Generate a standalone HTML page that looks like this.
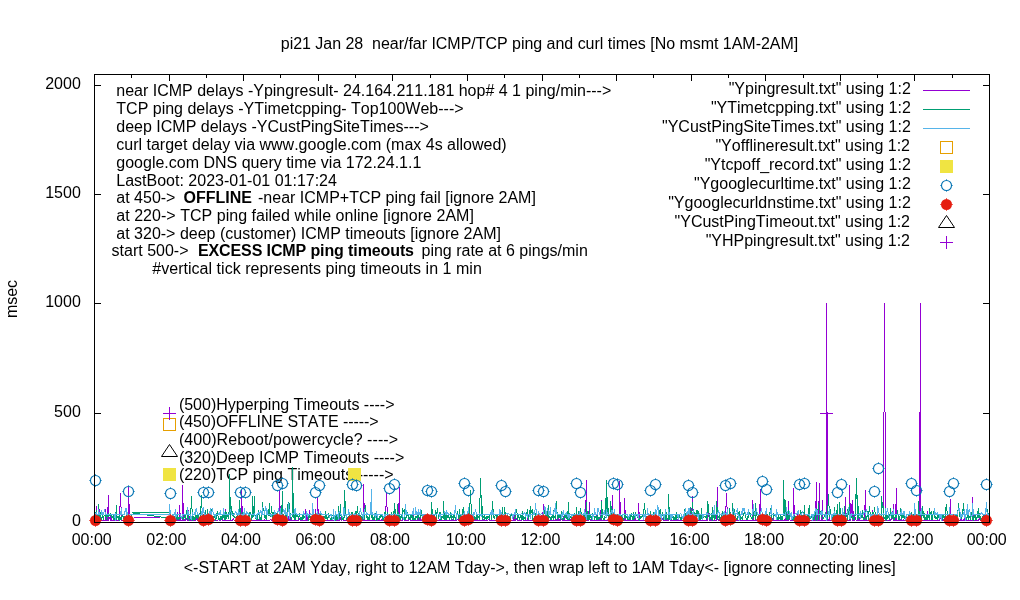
<!DOCTYPE html>
<html lang="en"><head><meta charset="utf-8"><title>pi21 ping and curl times</title>
<style>html,body{margin:0;padding:0;background:#fff}body{width:1020px;height:600px;overflow:hidden}svg{display:block}text{font-family:"Liberation Sans", Arial, Helvetica, sans-serif;font-size:16px;fill:#000;font-kerning:none}</style>
</head><body>
<svg width="1020" height="600" viewBox="0 0 1020 600">
<rect x="0" y="0" width="1020" height="600" fill="#fff"/>
<text x="280.8" y="48.5" textLength="517.4" lengthAdjust="spacing" xml:space="preserve">pi21 Jan 28  near/far ICMP/TCP ping and curl times [No msmt 1AM-2AM]</text>
<text x="183.8" y="572.5" textLength="711.8" lengthAdjust="spacing" xml:space="preserve">&lt;-START at 2AM Yday, right to 12AM Tday-&gt;, then wrap left to 1AM Tday&lt;- [ignore connecting lines]</text>
<text transform="translate(16.8,299) rotate(-90)" text-anchor="middle">msec</text>
<path d="M94.5 522.5V516.5M94.5 74.5V80.5M131.5 522.5V519.5M131.5 74.5V77.5M169.5 522.5V516.5M169.5 74.5V80.5M206.5 522.5V519.5M206.5 74.5V77.5M243.5 522.5V516.5M243.5 74.5V80.5M280.5 522.5V519.5M280.5 74.5V77.5M318.5 522.5V516.5M318.5 74.5V80.5M355.5 522.5V519.5M355.5 74.5V77.5M392.5 522.5V516.5M392.5 74.5V80.5M430.5 522.5V519.5M430.5 74.5V77.5M467.5 522.5V516.5M467.5 74.5V80.5M504.5 522.5V519.5M504.5 74.5V77.5M542.5 522.5V516.5M542.5 74.5V80.5M579.5 522.5V519.5M579.5 74.5V77.5M616.5 522.5V516.5M616.5 74.5V80.5M653.5 522.5V519.5M653.5 74.5V77.5M691.5 522.5V516.5M691.5 74.5V80.5M728.5 522.5V519.5M728.5 74.5V77.5M765.5 522.5V516.5M765.5 74.5V80.5M803.5 522.5V519.5M803.5 74.5V77.5M840.5 522.5V516.5M840.5 74.5V80.5M877.5 522.5V519.5M877.5 74.5V77.5M914.5 522.5V516.5M914.5 74.5V80.5M952.5 522.5V519.5M952.5 74.5V77.5M989.5 522.5V516.5M989.5 74.5V80.5M94.5 522.5H101.0M989.5 522.5H983.0M94.5 413.5H101.0M989.5 413.5H983.0M94.5 303.5H101.0M989.5 303.5H983.0M94.5 194.5H101.0M989.5 194.5H983.0M94.5 85.5H101.0M989.5 85.5H983.0" stroke="#000" stroke-width="1" fill="none" shape-rendering="crispEdges"/>
<text x="91.7" y="544.7" text-anchor="middle" xml:space="preserve">00:00</text>
<text x="166.3" y="544.7" text-anchor="middle" xml:space="preserve">02:00</text>
<text x="240.9" y="544.7" text-anchor="middle" xml:space="preserve">04:00</text>
<text x="315.4" y="544.7" text-anchor="middle" xml:space="preserve">06:00</text>
<text x="390.0" y="544.7" text-anchor="middle" xml:space="preserve">08:00</text>
<text x="465.8" y="544.7" text-anchor="middle" xml:space="preserve">10:00</text>
<text x="540.4" y="544.7" text-anchor="middle" xml:space="preserve">12:00</text>
<text x="615.0" y="544.7" text-anchor="middle" xml:space="preserve">14:00</text>
<text x="689.6" y="544.7" text-anchor="middle" xml:space="preserve">16:00</text>
<text x="764.1" y="544.7" text-anchor="middle" xml:space="preserve">18:00</text>
<text x="838.7" y="544.7" text-anchor="middle" xml:space="preserve">20:00</text>
<text x="913.3" y="544.7" text-anchor="middle" xml:space="preserve">22:00</text>
<text x="986.7" y="544.7" text-anchor="middle" xml:space="preserve">00:00</text>
<text x="80.8" y="525.9" text-anchor="end" xml:space="preserve">0</text>
<text x="80.8" y="416.9" text-anchor="end" xml:space="preserve">500</text>
<text x="80.8" y="306.9" text-anchor="end" xml:space="preserve">1000</text>
<text x="80.8" y="197.9" text-anchor="end" xml:space="preserve">1500</text>
<text x="80.8" y="88.9" text-anchor="end" xml:space="preserve">2000</text>
<text x="116.3" y="96.0" xml:space="preserve">near ICMP delays -Ypingresult- 24.164.211.181 hop# 4 1 ping/min---&gt;</text>
<text x="116.3" y="114.0" xml:space="preserve">TCP ping delays -YTimetcpping- Top100Web---&gt;</text>
<text x="116.3" y="132.0" xml:space="preserve">deep ICMP delays -YCustPingSiteTimes---&gt;</text>
<text x="116.3" y="150.0" xml:space="preserve">curl target delay via www.google.com (max 4s allowed)</text>
<text x="116.3" y="167.8" xml:space="preserve">google.com DNS query time via 172.24.1.1</text>
<text x="116.3" y="185.8" xml:space="preserve">LastBoot: 2023-01-01 01:17:24</text>
<text x="116.3" y="203.0" xml:space="preserve">at 450-&gt;</text>
<text x="183.5" y="203.0" font-weight="bold" xml:space="preserve">OFFLINE</text>
<text x="258.0" y="203.0" xml:space="preserve">-near ICMP+TCP ping fail [ignore 2AM]</text>
<text x="116.3" y="220.8" textLength="357.6" lengthAdjust="spacing" xml:space="preserve">at 220-&gt; TCP ping failed while online [ignore 2AM]</text>
<text x="116.3" y="238.6" xml:space="preserve">at 320-&gt; deep (customer) ICMP timeouts [ignore 2AM]</text>
<text x="111.6" y="256.4" xml:space="preserve">start 500-&gt;</text>
<text x="198.0" y="256.4" textLength="216.0" lengthAdjust="spacing" font-weight="bold" xml:space="preserve">EXCESS ICMP ping timeouts</text>
<text x="421.5" y="256.4" xml:space="preserve">ping rate at 6 pings/min</text>
<text x="152.3" y="274.4" textLength="329.5" lengthAdjust="spacing" xml:space="preserve">#vertical tick represents ping timeouts in 1 min</text>
<text x="178.9" y="409.5" xml:space="preserve">(500)Hyperping Timeouts ----&gt;</text>
<text x="178.9" y="427.0" textLength="199.7" lengthAdjust="spacing" xml:space="preserve">(450)OFFLINE STATE -----&gt;</text>
<text x="178.9" y="444.5" textLength="219.1" lengthAdjust="spacing" xml:space="preserve">(400)Reboot/powercycle? ----&gt;</text>
<text x="178.9" y="462.5" xml:space="preserve">(320)Deep ICMP Timeouts ----&gt;</text>
<text x="178.9" y="480.0" xml:space="preserve">(220)TCP ping Timeouts -----&gt;</text>
<text x="910.8" y="93.7" text-anchor="end" xml:space="preserve">&quot;Ypingresult.txt&quot; using 1:2</text>
<text x="910.8" y="112.7" text-anchor="end" xml:space="preserve">&quot;YTimetcpping.txt&quot; using 1:2</text>
<text x="910.8" y="131.7" text-anchor="end" xml:space="preserve">&quot;YCustPingSiteTimes.txt&quot; using 1:2</text>
<text x="910.0" y="150.7" text-anchor="end" xml:space="preserve">&quot;Yofflineresult.txt&quot; using 1:2</text>
<text x="910.8" y="169.7" text-anchor="end" xml:space="preserve">&quot;Ytcpoff_record.txt&quot; using 1:2</text>
<text x="910.8" y="188.7" text-anchor="end" xml:space="preserve">&quot;Ygooglecurltime.txt&quot; using 1:2</text>
<text x="910.8" y="207.7" text-anchor="end" xml:space="preserve">&quot;Ygooglecurldnstime.txt&quot; using 1:2</text>
<text x="910.0" y="226.7" text-anchor="end" xml:space="preserve">&quot;YCustPingTimeout.txt&quot; using 1:2</text>
<text x="910.0" y="245.7" text-anchor="end" xml:space="preserve">&quot;YHPpingresult.txt&quot; using 1:2</text>
<g fill="none" stroke-width="1" stroke-linejoin="bevel" shape-rendering="crispEdges">
<path d="M169.5 520.5L169.5 520.5L170.5 520.5L170.5 520.5L171.5 520.5L172.5 520.5L172.5 520.5L173.5 519.5L174.5 520.5L174.5 520.5L175.5 520.5L175.5 520.5L176.5 520.5L177.5 512.5L177.5 520.5L178.5 520.5L179.5 520.5L179.5 505.5L180.5 520.5L180.5 520.5L181.5 520.5L182.5 520.5L182.5 485.5L183.5 520.5L184.5 520.5L184.5 520.5L185.5 517.5L185.5 520.5L186.5 518.5L187.5 520.5L187.5 520.5L188.5 520.5L188.5 510.5L189.5 520.5L190.5 520.5L190.5 520.5L191.5 520.5L192.5 520.5L192.5 520.5L193.5 520.5L193.5 520.5L194.5 520.5L195.5 520.5L195.5 520.5L196.5 518.5L197.5 520.5L197.5 520.5L198.5 520.5L198.5 520.5L199.5 518.5L200.5 520.5L200.5 520.5L201.5 520.5L202.5 520.5L202.5 520.5L203.5 520.5L203.5 520.5L204.5 520.5L205.5 520.5L205.5 514.5L206.5 520.5L206.5 519.5L207.5 520.5L208.5 520.5L208.5 520.5L209.5 520.5L210.5 520.5L210.5 520.5L211.5 520.5L211.5 520.5L212.5 520.5L213.5 520.5L213.5 520.5L214.5 520.5L215.5 520.5L215.5 520.5L216.5 520.5L216.5 520.5L217.5 520.5L218.5 519.5L218.5 518.5L219.5 520.5L220.5 520.5L220.5 520.5L221.5 518.5L221.5 518.5L222.5 520.5L223.5 520.5L223.5 520.5L224.5 520.5L225.5 509.5L225.5 520.5L226.5 520.5L226.5 520.5L227.5 520.5L228.5 520.5L228.5 520.5L229.5 520.5L229.5 520.5L230.5 520.5L231.5 520.5L231.5 520.5L232.5 520.5L233.5 518.5L233.5 519.5L234.5 520.5L234.5 520.5L235.5 520.5L236.5 520.5L236.5 520.5L237.5 520.5L238.5 520.5L238.5 518.5L239.5 520.5L239.5 520.5L240.5 520.5L241.5 518.5L241.5 490.5L242.5 520.5L243.5 520.5L243.5 520.5L244.5 517.5L244.5 520.5L245.5 520.5L246.5 520.5L246.5 520.5L247.5 520.5L248.5 519.5L248.5 520.5L249.5 520.5L249.5 520.5L250.5 520.5L251.5 520.5L251.5 520.5L252.5 520.5L252.5 520.5L253.5 520.5L254.5 520.5L254.5 520.5L255.5 520.5L256.5 520.5L256.5 520.5L257.5 520.5L257.5 518.5L258.5 520.5L259.5 520.5L259.5 519.5L260.5 520.5L261.5 520.5L261.5 520.5L262.5 520.5L262.5 520.5L263.5 520.5L264.5 520.5L264.5 519.5L265.5 520.5L266.5 520.5L266.5 520.5L267.5 520.5L267.5 520.5L268.5 520.5L269.5 520.5L269.5 520.5L270.5 519.5L271.5 520.5L271.5 520.5L272.5 520.5L272.5 520.5L273.5 520.5L274.5 520.5L274.5 520.5L275.5 520.5L275.5 520.5L276.5 520.5L277.5 518.5L277.5 520.5L278.5 520.5L279.5 520.5L279.5 490.5L280.5 520.5L280.5 520.5L281.5 520.5L282.5 517.5L282.5 520.5L283.5 520.5L284.5 520.5L284.5 520.5L285.5 520.5L285.5 520.5L286.5 520.5L287.5 520.5L287.5 520.5L288.5 520.5L289.5 512.5L289.5 520.5L290.5 517.5L290.5 520.5L291.5 520.5L292.5 520.5L292.5 520.5L293.5 520.5L294.5 520.5L294.5 518.5L295.5 512.5L295.5 520.5L296.5 520.5L297.5 520.5L297.5 520.5L298.5 520.5L298.5 520.5L299.5 518.5L300.5 520.5L300.5 520.5L301.5 520.5L302.5 520.5L302.5 520.5L303.5 520.5L303.5 520.5L304.5 520.5L305.5 520.5L305.5 509.5L306.5 520.5L307.5 520.5L307.5 515.5L308.5 520.5L308.5 520.5L309.5 510.5L310.5 520.5L310.5 520.5L311.5 520.5L312.5 520.5L312.5 520.5L313.5 520.5L313.5 520.5L314.5 520.5L315.5 509.5L315.5 520.5L316.5 520.5L317.5 520.5L317.5 497.5L318.5 520.5L318.5 520.5L319.5 520.5L320.5 520.5L320.5 517.5L321.5 520.5L321.5 520.5L322.5 520.5L323.5 520.5L323.5 520.5L324.5 520.5L325.5 520.5L325.5 520.5L326.5 520.5L326.5 520.5L327.5 520.5L328.5 520.5L328.5 520.5L329.5 520.5L330.5 520.5L330.5 520.5L331.5 520.5L331.5 520.5L332.5 520.5L333.5 520.5L333.5 520.5L334.5 520.5L335.5 520.5L335.5 520.5L336.5 520.5L336.5 520.5L337.5 520.5L338.5 520.5L338.5 520.5L339.5 520.5L340.5 517.5L340.5 518.5L341.5 520.5L341.5 520.5L342.5 517.5L343.5 520.5L343.5 520.5L344.5 520.5L344.5 520.5L345.5 520.5L346.5 520.5L346.5 520.5L347.5 518.5L348.5 520.5L348.5 520.5L349.5 518.5L349.5 520.5L350.5 520.5L351.5 520.5L351.5 520.5L352.5 520.5L353.5 520.5L353.5 520.5L354.5 520.5L354.5 520.5L355.5 520.5L356.5 518.5L356.5 520.5L357.5 520.5L358.5 518.5L358.5 520.5L359.5 520.5L359.5 520.5L360.5 518.5L361.5 520.5L361.5 520.5L362.5 520.5L363.5 520.5L363.5 484.5L364.5 520.5L364.5 520.5L365.5 520.5L366.5 520.5L366.5 520.5L367.5 520.5L367.5 520.5L368.5 520.5L369.5 520.5L369.5 520.5L370.5 520.5L371.5 520.5L371.5 520.5L372.5 520.5L372.5 520.5L373.5 520.5L374.5 518.5L374.5 520.5L375.5 520.5L376.5 520.5L376.5 520.5L377.5 520.5L377.5 520.5L378.5 520.5L379.5 520.5L379.5 520.5L380.5 520.5L381.5 520.5L381.5 520.5L382.5 518.5L382.5 520.5L383.5 520.5L384.5 520.5L384.5 520.5L385.5 520.5L385.5 520.5L386.5 493.5L387.5 520.5L387.5 518.5L388.5 520.5L389.5 520.5L389.5 519.5L390.5 520.5L390.5 520.5L391.5 520.5L392.5 520.5L392.5 520.5L393.5 520.5L394.5 520.5L394.5 520.5L395.5 520.5L395.5 520.5L396.5 520.5L397.5 520.5L397.5 520.5L398.5 520.5L399.5 487.5L399.5 520.5L400.5 520.5L400.5 520.5L401.5 520.5L402.5 520.5L402.5 520.5L403.5 518.5L404.5 520.5L404.5 520.5L405.5 520.5L405.5 520.5L406.5 520.5L407.5 520.5L407.5 520.5L408.5 520.5L408.5 520.5L409.5 518.5L410.5 520.5L410.5 520.5L411.5 520.5L412.5 520.5L412.5 520.5L413.5 511.5L413.5 520.5L414.5 520.5L415.5 520.5L415.5 520.5L416.5 520.5L417.5 520.5L417.5 520.5L418.5 518.5L418.5 520.5L419.5 520.5L420.5 513.5L420.5 520.5L421.5 520.5L422.5 520.5L422.5 520.5L423.5 520.5L423.5 520.5L424.5 520.5L425.5 520.5L425.5 520.5L426.5 520.5L427.5 520.5L427.5 517.5L428.5 520.5L428.5 520.5L429.5 520.5L430.5 520.5L430.5 520.5L431.5 520.5L431.5 520.5L432.5 509.5L433.5 520.5L433.5 520.5L434.5 520.5L435.5 520.5L435.5 520.5L436.5 520.5L436.5 520.5L437.5 520.5L438.5 520.5L438.5 520.5L439.5 520.5L440.5 518.5L440.5 520.5L441.5 520.5L441.5 520.5L442.5 520.5L443.5 520.5L443.5 520.5L444.5 520.5L445.5 520.5L445.5 520.5L446.5 520.5L446.5 520.5L447.5 520.5L448.5 520.5L448.5 520.5L449.5 520.5L450.5 520.5L450.5 520.5L451.5 520.5L451.5 520.5L452.5 520.5L453.5 517.5L453.5 520.5L454.5 520.5L454.5 520.5L455.5 520.5L456.5 520.5L456.5 520.5L457.5 519.5L458.5 520.5L458.5 520.5L459.5 518.5L459.5 520.5L460.5 520.5L461.5 520.5L461.5 520.5L462.5 517.5L463.5 520.5L463.5 520.5L464.5 519.5L464.5 520.5L465.5 520.5L466.5 517.5L466.5 520.5L467.5 520.5L468.5 520.5L468.5 520.5L469.5 517.5L469.5 520.5L470.5 520.5L471.5 520.5L471.5 520.5L472.5 520.5L473.5 520.5L473.5 520.5L474.5 520.5L474.5 518.5L475.5 520.5L476.5 518.5L476.5 520.5L477.5 520.5L477.5 520.5L478.5 520.5L479.5 520.5L479.5 520.5L480.5 520.5L481.5 520.5L481.5 520.5L482.5 520.5L482.5 517.5L483.5 520.5L484.5 520.5L484.5 520.5L485.5 520.5L486.5 520.5L486.5 520.5L487.5 520.5L487.5 520.5L488.5 519.5L489.5 520.5L489.5 520.5L490.5 520.5L491.5 520.5L491.5 520.5L492.5 520.5L492.5 520.5L493.5 520.5L494.5 520.5L494.5 520.5L495.5 520.5L496.5 520.5L496.5 520.5L497.5 520.5L497.5 520.5L498.5 520.5L499.5 520.5L499.5 520.5L500.5 520.5L500.5 520.5L501.5 520.5L502.5 520.5L502.5 520.5L503.5 520.5L504.5 520.5L504.5 520.5L505.5 517.5L505.5 520.5L506.5 516.5L507.5 520.5L507.5 520.5L508.5 519.5L509.5 520.5L509.5 520.5L510.5 520.5L510.5 520.5L511.5 520.5L512.5 520.5L512.5 520.5L513.5 520.5L514.5 512.5L514.5 520.5L515.5 520.5L515.5 520.5L516.5 518.5L517.5 518.5L517.5 520.5L518.5 520.5L519.5 520.5L519.5 520.5L520.5 520.5L520.5 520.5L521.5 520.5L522.5 512.5L522.5 519.5L523.5 520.5L523.5 520.5L524.5 520.5L525.5 520.5L525.5 520.5L526.5 520.5L527.5 520.5L527.5 518.5L528.5 520.5L528.5 519.5L529.5 520.5L530.5 520.5L530.5 520.5L531.5 520.5L532.5 520.5L532.5 520.5L533.5 520.5L533.5 520.5L534.5 520.5L535.5 520.5L535.5 520.5L536.5 520.5L537.5 520.5L537.5 520.5L538.5 519.5L538.5 520.5L539.5 520.5L540.5 520.5L540.5 520.5L541.5 515.5L542.5 520.5L542.5 520.5L543.5 504.5L543.5 519.5L544.5 520.5L545.5 520.5L545.5 520.5L546.5 520.5L546.5 520.5L547.5 520.5L548.5 520.5L548.5 520.5L549.5 520.5L550.5 520.5L550.5 520.5L551.5 520.5L551.5 520.5L552.5 520.5L553.5 520.5L553.5 520.5L554.5 520.5L555.5 520.5L555.5 518.5L556.5 520.5L556.5 520.5L557.5 520.5L558.5 520.5L558.5 518.5L559.5 520.5L560.5 520.5L560.5 520.5L561.5 518.5L561.5 519.5L562.5 520.5L563.5 520.5L563.5 516.5L564.5 520.5L564.5 520.5L565.5 520.5L566.5 520.5L566.5 520.5L567.5 520.5L568.5 520.5L568.5 518.5L569.5 520.5L569.5 520.5L570.5 520.5L571.5 517.5L571.5 520.5L572.5 520.5L573.5 520.5L573.5 520.5L574.5 520.5L574.5 520.5L575.5 520.5L576.5 520.5L576.5 520.5L577.5 520.5L578.5 520.5L578.5 520.5L579.5 519.5L579.5 520.5L580.5 520.5L581.5 520.5L581.5 520.5L582.5 520.5L583.5 520.5L583.5 520.5L584.5 520.5L584.5 520.5L585.5 520.5L586.5 480.5L586.5 520.5L587.5 520.5L587.5 516.5L588.5 520.5L589.5 502.5L589.5 517.5L590.5 520.5L591.5 520.5L591.5 520.5L592.5 517.5L592.5 520.5L593.5 520.5L594.5 520.5L594.5 520.5L595.5 520.5L596.5 520.5L596.5 514.5L597.5 520.5L597.5 520.5L598.5 520.5L599.5 519.5L599.5 520.5L600.5 520.5L601.5 500.5L601.5 520.5L602.5 520.5L602.5 520.5L603.5 520.5L604.5 518.5L604.5 520.5L605.5 520.5L606.5 520.5L606.5 520.5L607.5 520.5L607.5 520.5L608.5 520.5L609.5 520.5L609.5 517.5L610.5 520.5L610.5 520.5L611.5 520.5L612.5 495.5L612.5 520.5L613.5 520.5L614.5 520.5L614.5 519.5L615.5 520.5L615.5 520.5L616.5 520.5L617.5 520.5L617.5 517.5L618.5 518.5L619.5 520.5L619.5 481.5L620.5 520.5L620.5 520.5L621.5 520.5L622.5 520.5L622.5 520.5L623.5 518.5L624.5 520.5L624.5 498.5L625.5 520.5L625.5 520.5L626.5 520.5L627.5 520.5L627.5 520.5L628.5 520.5L629.5 520.5L629.5 520.5L630.5 520.5L630.5 520.5L631.5 520.5L632.5 520.5L632.5 520.5L633.5 520.5L633.5 518.5L634.5 520.5L635.5 516.5L635.5 520.5L636.5 520.5L637.5 520.5L637.5 520.5L638.5 520.5L638.5 503.5L639.5 520.5L640.5 520.5L640.5 520.5L641.5 520.5L642.5 520.5L642.5 520.5L643.5 520.5L643.5 519.5L644.5 520.5L645.5 520.5L645.5 520.5L646.5 520.5L647.5 520.5L647.5 520.5L648.5 520.5L648.5 517.5L649.5 520.5L650.5 517.5L650.5 518.5L651.5 520.5L652.5 520.5L652.5 519.5L653.5 520.5L653.5 520.5L654.5 520.5L655.5 520.5L655.5 520.5L656.5 520.5L656.5 520.5L657.5 520.5L658.5 520.5L658.5 517.5L659.5 520.5L660.5 520.5L660.5 520.5L661.5 520.5L661.5 520.5L662.5 518.5L663.5 520.5L663.5 520.5L664.5 520.5L665.5 520.5L665.5 520.5L666.5 520.5L666.5 520.5L667.5 520.5L668.5 518.5L668.5 520.5L669.5 512.5L670.5 520.5L670.5 520.5L671.5 520.5L671.5 520.5L672.5 520.5L673.5 520.5L673.5 520.5L674.5 520.5L675.5 520.5L675.5 520.5L676.5 520.5L676.5 518.5L677.5 520.5L678.5 520.5L678.5 520.5L679.5 520.5L679.5 520.5L680.5 520.5L681.5 520.5L681.5 519.5L682.5 520.5L683.5 520.5L683.5 520.5L684.5 520.5L684.5 520.5L685.5 520.5L686.5 520.5L686.5 517.5L687.5 520.5L688.5 520.5L688.5 520.5L689.5 520.5L689.5 509.5L690.5 514.5L691.5 520.5L691.5 520.5L692.5 496.5L693.5 520.5L693.5 520.5L694.5 520.5L694.5 520.5L695.5 520.5L696.5 520.5L696.5 520.5L697.5 520.5L698.5 520.5L698.5 520.5L699.5 520.5L699.5 517.5L700.5 520.5L701.5 520.5L701.5 520.5L702.5 520.5L702.5 520.5L703.5 520.5L704.5 520.5L704.5 520.5L705.5 520.5L706.5 520.5L706.5 520.5L707.5 520.5L707.5 520.5L708.5 513.5L709.5 520.5L709.5 517.5L710.5 520.5L711.5 520.5L711.5 520.5L712.5 520.5L712.5 520.5L713.5 520.5L714.5 520.5L714.5 520.5L715.5 520.5L716.5 520.5L716.5 520.5L717.5 487.5L717.5 518.5L718.5 520.5L719.5 520.5L719.5 520.5L720.5 520.5L721.5 520.5L721.5 520.5L722.5 520.5L722.5 520.5L723.5 520.5L724.5 520.5L724.5 520.5L725.5 520.5L725.5 520.5L726.5 493.5L727.5 519.5L727.5 520.5L728.5 520.5L729.5 520.5L729.5 520.5L730.5 520.5L730.5 520.5L731.5 520.5L732.5 520.5L732.5 520.5L733.5 518.5L734.5 520.5L734.5 520.5L735.5 520.5L735.5 520.5L736.5 520.5L737.5 520.5L737.5 520.5L738.5 520.5L739.5 520.5L739.5 518.5L740.5 520.5L740.5 520.5L741.5 520.5L742.5 519.5L742.5 520.5L743.5 520.5L743.5 520.5L744.5 520.5L745.5 520.5L745.5 520.5L746.5 520.5L747.5 520.5L747.5 520.5L748.5 520.5L748.5 520.5L749.5 520.5L750.5 520.5L750.5 520.5L751.5 520.5L752.5 520.5L752.5 500.5L753.5 520.5L753.5 520.5L754.5 520.5L755.5 520.5L755.5 520.5L756.5 520.5L757.5 520.5L757.5 520.5L758.5 520.5L758.5 515.5L759.5 520.5L760.5 489.5L760.5 520.5L761.5 520.5L762.5 520.5L762.5 520.5L763.5 520.5L763.5 518.5L764.5 520.5L765.5 520.5L765.5 520.5L766.5 520.5L766.5 520.5L767.5 520.5L768.5 518.5L768.5 520.5L769.5 520.5L770.5 520.5L770.5 520.5L771.5 520.5L771.5 517.5L772.5 520.5L773.5 518.5L773.5 520.5L774.5 520.5L775.5 520.5L775.5 520.5L776.5 520.5L776.5 520.5L777.5 520.5L778.5 520.5L778.5 519.5L779.5 520.5L780.5 520.5L780.5 520.5L781.5 520.5L781.5 520.5L782.5 520.5L783.5 520.5L783.5 520.5L784.5 520.5L785.5 518.5L785.5 520.5L786.5 520.5L786.5 520.5L787.5 520.5L788.5 501.5L788.5 520.5L789.5 515.5L789.5 519.5L790.5 520.5L791.5 520.5L791.5 512.5L792.5 520.5L793.5 520.5L793.5 488.5L794.5 520.5L794.5 520.5L795.5 520.5L796.5 520.5L796.5 520.5L797.5 513.5L798.5 520.5L798.5 520.5L799.5 517.5L799.5 517.5L800.5 520.5L801.5 520.5L801.5 520.5L802.5 520.5L803.5 519.5L803.5 520.5L804.5 520.5L804.5 517.5L805.5 520.5L806.5 520.5L806.5 520.5L807.5 520.5L808.5 520.5L808.5 520.5L809.5 520.5L809.5 520.5L810.5 520.5L811.5 520.5L811.5 520.5L812.5 520.5L812.5 520.5L813.5 520.5L814.5 520.5L814.5 520.5L815.5 520.5L816.5 482.5L816.5 520.5L817.5 520.5L817.5 520.5L818.5 520.5L819.5 483.5L819.5 520.5L820.5 520.5L821.5 520.5L821.5 520.5L822.5 500.5L822.5 520.5L823.5 520.5L824.5 520.5L824.5 520.5L825.5 520.5L826.5 520.5L826.5 520.5L827.5 520.5L827.5 519.5L828.5 520.5L829.5 517.5L829.5 520.5L830.5 520.5L831.5 519.5L831.5 520.5L832.5 518.5L832.5 518.5L833.5 520.5L834.5 520.5L834.5 520.5L835.5 520.5L835.5 520.5L836.5 520.5L837.5 504.5L837.5 520.5L838.5 519.5L839.5 520.5L839.5 520.5L840.5 518.5L840.5 520.5L841.5 520.5L842.5 520.5L842.5 520.5L843.5 520.5L844.5 520.5L844.5 517.5L845.5 497.5L845.5 520.5L846.5 520.5L847.5 520.5L847.5 520.5L848.5 520.5L849.5 520.5L849.5 485.5L850.5 520.5L850.5 520.5L851.5 504.5L852.5 520.5L852.5 500.5L853.5 520.5L854.5 520.5L854.5 519.5L855.5 517.5L855.5 519.5L856.5 520.5L857.5 520.5L857.5 520.5L858.5 520.5L858.5 518.5L859.5 520.5L860.5 520.5L860.5 520.5L861.5 520.5L862.5 520.5L862.5 520.5L863.5 520.5L863.5 520.5L864.5 520.5L865.5 490.5L865.5 520.5L866.5 520.5L867.5 520.5L867.5 520.5L868.5 520.5L868.5 520.5L869.5 520.5L870.5 520.5L870.5 520.5L871.5 520.5L872.5 520.5L872.5 510.5L873.5 520.5L873.5 520.5L874.5 520.5L875.5 520.5L875.5 520.5L876.5 520.5L877.5 520.5L877.5 520.5L878.5 518.5L878.5 520.5L879.5 520.5L880.5 518.5L880.5 520.5L881.5 520.5L881.5 520.5L882.5 520.5L883.5 518.5L883.5 520.5L884.5 520.5L885.5 520.5L885.5 520.5L886.5 520.5L886.5 520.5L887.5 520.5L888.5 520.5L888.5 520.5L889.5 520.5L890.5 520.5L890.5 520.5L891.5 518.5L891.5 518.5L892.5 518.5L893.5 504.5L893.5 520.5L894.5 520.5L895.5 520.5L895.5 520.5L896.5 488.5L896.5 520.5L897.5 520.5L898.5 520.5L898.5 518.5L899.5 520.5L900.5 520.5L900.5 519.5L901.5 520.5L901.5 520.5L902.5 520.5L903.5 519.5L903.5 520.5L904.5 520.5L904.5 520.5L905.5 520.5L906.5 520.5L906.5 520.5L907.5 520.5L908.5 520.5L908.5 520.5L909.5 520.5L909.5 519.5L910.5 520.5L911.5 520.5L911.5 520.5L912.5 520.5L913.5 520.5L913.5 520.5L914.5 520.5L914.5 520.5L915.5 520.5L916.5 520.5L916.5 520.5L917.5 517.5L918.5 520.5L918.5 520.5L919.5 520.5L919.5 520.5L920.5 520.5L921.5 520.5L921.5 520.5L922.5 520.5L922.5 520.5L923.5 520.5L924.5 520.5L924.5 520.5L925.5 520.5L926.5 518.5L926.5 520.5L927.5 511.5L927.5 520.5L928.5 520.5L929.5 520.5L929.5 520.5L930.5 520.5L931.5 520.5L931.5 520.5L932.5 520.5L932.5 520.5L933.5 520.5L934.5 520.5L934.5 520.5L935.5 520.5L936.5 520.5L936.5 520.5L937.5 520.5L937.5 520.5L938.5 520.5L939.5 520.5L939.5 520.5L940.5 516.5L941.5 520.5L941.5 520.5L942.5 520.5L942.5 520.5L943.5 520.5L944.5 518.5L944.5 520.5L945.5 520.5L945.5 520.5L946.5 520.5L947.5 520.5L947.5 520.5L948.5 520.5L949.5 520.5L949.5 520.5L950.5 499.5L950.5 520.5L951.5 520.5L952.5 520.5L952.5 517.5L953.5 520.5L954.5 520.5L954.5 520.5L955.5 520.5L955.5 520.5L956.5 520.5L957.5 520.5L957.5 520.5L958.5 519.5L959.5 520.5L959.5 520.5L960.5 520.5L960.5 516.5L961.5 520.5L962.5 520.5L962.5 520.5L963.5 520.5L964.5 518.5L964.5 520.5L965.5 520.5L965.5 517.5L966.5 520.5L967.5 520.5L967.5 520.5L968.5 520.5L968.5 520.5L969.5 520.5L970.5 520.5L970.5 520.5L971.5 520.5L972.5 520.5L972.5 497.5L973.5 520.5L973.5 520.5L974.5 520.5L975.5 520.5L975.5 520.5L976.5 520.5L977.5 520.5L977.5 520.5L978.5 520.5L978.5 520.5L979.5 518.5L980.5 520.5L980.5 520.5L981.5 520.5L982.5 520.5L982.5 520.5L983.5 520.5L983.5 520.5L984.5 520.5L985.5 508.5L985.5 520.5L986.5 517.5L987.5 520.5L987.5 520.5L988.5 520.5L988.5 517.5M94.5 520.5L95.5 518.5L95.5 520.5L96.5 506.5L96.5 520.5L97.5 520.5L98.5 520.5L98.5 520.5L99.5 509.5L100.5 520.5L100.5 520.5L101.5 520.5L101.5 520.5L102.5 520.5L103.5 520.5L103.5 520.5L104.5 520.5L105.5 520.5L105.5 509.5L106.5 520.5L106.5 520.5L107.5 520.5L108.5 495.5L108.5 520.5L109.5 517.5L110.5 520.5L110.5 518.5L111.5 514.5L111.5 520.5L112.5 520.5L113.5 520.5L113.5 518.5L114.5 520.5L115.5 520.5L115.5 520.5L116.5 520.5L116.5 520.5L117.5 520.5L118.5 520.5L118.5 520.5L119.5 511.5L119.5 520.5L120.5 493.5L121.5 520.5L121.5 520.5L122.5 520.5L123.5 520.5L123.5 520.5L124.5 520.5L124.5 520.5L125.5 520.5L126.5 518.5L126.5 520.5L127.5 520.5L128.5 518.5L128.5 487.5L129.5 520.5L129.5 520.5L130.5 518.5L131.5 520.5L131.5 520.5M133.8 517.5H160M826.5 303V521M827.5 412V521M884.5 303V412M883.5 412V521M885.5 412V521M920.5 303V521M919.5 412V521" stroke="#9400d3"/>
<path d="M169.5 515.5L169.5 519.5L170.5 515.5L170.5 518.5L171.5 516.5L172.5 520.5L172.5 517.5L173.5 519.5L174.5 516.5L174.5 519.5L175.5 515.5L175.5 520.5L176.5 516.5L177.5 519.5L177.5 515.5L178.5 519.5L179.5 517.5L179.5 518.5L180.5 516.5L180.5 515.5L181.5 517.5L182.5 519.5L182.5 515.5L183.5 518.5L184.5 516.5L184.5 514.5L185.5 516.5L185.5 519.5L186.5 510.5L187.5 519.5L187.5 516.5L188.5 514.5L188.5 516.5L189.5 520.5L190.5 515.5L190.5 519.5L191.5 496.5L192.5 520.5L192.5 512.5L193.5 519.5L193.5 517.5L194.5 519.5L195.5 515.5L195.5 519.5L196.5 515.5L197.5 514.5L197.5 516.5L198.5 520.5L198.5 516.5L199.5 513.5L200.5 516.5L200.5 517.5L201.5 495.5L202.5 519.5L202.5 516.5L203.5 519.5L203.5 514.5L204.5 519.5L205.5 510.5L205.5 517.5L206.5 516.5L206.5 518.5L207.5 509.5L208.5 518.5L208.5 516.5L209.5 515.5L210.5 516.5L210.5 519.5L211.5 509.5L211.5 519.5L212.5 516.5L213.5 519.5L213.5 516.5L214.5 517.5L215.5 515.5L215.5 520.5L216.5 517.5L216.5 514.5L217.5 511.5L218.5 519.5L218.5 517.5L219.5 519.5L220.5 516.5L220.5 519.5L221.5 516.5L221.5 519.5L222.5 517.5L223.5 510.5L223.5 516.5L224.5 519.5L225.5 511.5L225.5 519.5L226.5 512.5L226.5 518.5L227.5 515.5L228.5 512.5L228.5 518.5L229.5 512.5L229.5 474.5L230.5 519.5L231.5 511.5L231.5 506.5L232.5 515.5L233.5 513.5L233.5 516.5L234.5 517.5L234.5 516.5L235.5 517.5L236.5 516.5L236.5 519.5L237.5 515.5L238.5 519.5L238.5 517.5L239.5 515.5L239.5 500.5L240.5 514.5L241.5 516.5L241.5 519.5L242.5 512.5L243.5 519.5L243.5 516.5L244.5 519.5L244.5 511.5L245.5 519.5L246.5 516.5L246.5 517.5L247.5 517.5L248.5 519.5L248.5 517.5L249.5 512.5L249.5 516.5L250.5 512.5L251.5 516.5L251.5 519.5L252.5 515.5L252.5 496.5L253.5 516.5L254.5 496.5L254.5 510.5L255.5 518.5L256.5 516.5L256.5 519.5L257.5 516.5L257.5 519.5L258.5 510.5L259.5 519.5L259.5 514.5L260.5 519.5L261.5 517.5L261.5 519.5L262.5 502.5L262.5 514.5L263.5 508.5L264.5 513.5L264.5 516.5L265.5 518.5L266.5 511.5L266.5 519.5L267.5 510.5L267.5 513.5L268.5 515.5L269.5 503.5L269.5 515.5L270.5 516.5L271.5 510.5L271.5 506.5L272.5 516.5L272.5 519.5L273.5 512.5L274.5 517.5L274.5 515.5L275.5 519.5L275.5 515.5L276.5 513.5L277.5 515.5L277.5 514.5L278.5 515.5L279.5 519.5L279.5 513.5L280.5 517.5L280.5 512.5L281.5 519.5L282.5 491.5L282.5 512.5L283.5 515.5L284.5 519.5L284.5 516.5L285.5 518.5L285.5 512.5L286.5 519.5L287.5 509.5L287.5 506.5L288.5 502.5L289.5 504.5L289.5 508.5L290.5 517.5L290.5 516.5L291.5 519.5L292.5 514.5L292.5 467.5L293.5 516.5L294.5 519.5L294.5 513.5L295.5 519.5L295.5 514.5L296.5 516.5L297.5 515.5L297.5 516.5L298.5 517.5L298.5 519.5L299.5 513.5L300.5 519.5L300.5 518.5L301.5 519.5L302.5 515.5L302.5 519.5L303.5 514.5L303.5 518.5L304.5 516.5L305.5 519.5L305.5 517.5L306.5 511.5L307.5 515.5L307.5 513.5L308.5 515.5L308.5 520.5L309.5 515.5L310.5 519.5L310.5 516.5L311.5 519.5L312.5 516.5L312.5 512.5L313.5 516.5L313.5 519.5L314.5 516.5L315.5 513.5L315.5 516.5L316.5 519.5L317.5 515.5L317.5 519.5L318.5 515.5L318.5 519.5L319.5 516.5L320.5 512.5L320.5 516.5L321.5 518.5L321.5 516.5L322.5 519.5L323.5 516.5L323.5 519.5L324.5 516.5L325.5 518.5L325.5 511.5L326.5 518.5L326.5 516.5L327.5 519.5L328.5 515.5L328.5 513.5L329.5 516.5L330.5 519.5L330.5 518.5L331.5 519.5L331.5 515.5L332.5 515.5L333.5 515.5L333.5 518.5L334.5 517.5L335.5 520.5L335.5 516.5L336.5 519.5L336.5 515.5L337.5 519.5L338.5 515.5L338.5 506.5L339.5 518.5L340.5 504.5L340.5 511.5L341.5 519.5L341.5 517.5L342.5 519.5L343.5 518.5L343.5 519.5L344.5 515.5L344.5 490.5L345.5 510.5L346.5 519.5L346.5 515.5L347.5 518.5L348.5 516.5L348.5 519.5L349.5 515.5L349.5 518.5L350.5 516.5L351.5 519.5L351.5 512.5L352.5 512.5L353.5 515.5L353.5 516.5L354.5 515.5L354.5 515.5L355.5 511.5L356.5 519.5L356.5 516.5L357.5 506.5L358.5 518.5L358.5 519.5L359.5 515.5L359.5 518.5L360.5 515.5L361.5 519.5L361.5 516.5L362.5 519.5L363.5 515.5L363.5 518.5L364.5 508.5L364.5 519.5L365.5 505.5L366.5 517.5L366.5 513.5L367.5 519.5L367.5 516.5L368.5 519.5L369.5 515.5L369.5 519.5L370.5 510.5L371.5 511.5L371.5 515.5L372.5 519.5L372.5 515.5L373.5 519.5L374.5 515.5L374.5 519.5L375.5 513.5L376.5 520.5L376.5 512.5L377.5 519.5L377.5 516.5L378.5 519.5L379.5 516.5L379.5 519.5L380.5 515.5L381.5 516.5L381.5 514.5L382.5 519.5L382.5 515.5L383.5 519.5L384.5 516.5L384.5 512.5L385.5 511.5L385.5 517.5L386.5 519.5L387.5 512.5L387.5 515.5L388.5 519.5L389.5 515.5L389.5 519.5L390.5 516.5L390.5 519.5L391.5 512.5L392.5 519.5L392.5 518.5L393.5 519.5L394.5 503.5L394.5 519.5L395.5 509.5L395.5 519.5L396.5 516.5L397.5 514.5L397.5 504.5L398.5 519.5L399.5 515.5L399.5 519.5L400.5 516.5L400.5 519.5L401.5 515.5L402.5 518.5L402.5 508.5L403.5 511.5L404.5 509.5L404.5 519.5L405.5 519.5L405.5 519.5L406.5 515.5L407.5 512.5L407.5 512.5L408.5 518.5L408.5 515.5L409.5 519.5L410.5 515.5L410.5 519.5L411.5 515.5L412.5 519.5L412.5 515.5L413.5 519.5L413.5 516.5L414.5 519.5L415.5 516.5L415.5 519.5L416.5 516.5L417.5 519.5L417.5 515.5L418.5 515.5L418.5 515.5L419.5 519.5L420.5 515.5L420.5 516.5L421.5 510.5L422.5 520.5L422.5 516.5L423.5 519.5L423.5 515.5L424.5 519.5L425.5 517.5L425.5 519.5L426.5 515.5L427.5 517.5L427.5 515.5L428.5 518.5L428.5 519.5L429.5 516.5L430.5 515.5L430.5 519.5L431.5 514.5L431.5 502.5L432.5 515.5L433.5 519.5L433.5 519.5L434.5 519.5L435.5 510.5L435.5 514.5L436.5 512.5L436.5 519.5L437.5 508.5L438.5 518.5L438.5 516.5L439.5 512.5L440.5 512.5L440.5 519.5L441.5 516.5L441.5 519.5L442.5 516.5L443.5 518.5L443.5 501.5L444.5 519.5L445.5 515.5L445.5 519.5L446.5 515.5L446.5 519.5L447.5 515.5L448.5 517.5L448.5 515.5L449.5 519.5L450.5 515.5L450.5 512.5L451.5 516.5L451.5 519.5L452.5 516.5L453.5 519.5L453.5 516.5L454.5 514.5L454.5 515.5L455.5 519.5L456.5 515.5L456.5 518.5L457.5 511.5L458.5 518.5L458.5 516.5L459.5 519.5L459.5 509.5L460.5 519.5L461.5 517.5L461.5 519.5L462.5 511.5L463.5 507.5L463.5 515.5L464.5 518.5L464.5 515.5L465.5 519.5L466.5 517.5L466.5 515.5L467.5 517.5L468.5 519.5L468.5 515.5L469.5 518.5L469.5 517.5L470.5 490.5L471.5 516.5L471.5 519.5L472.5 516.5L473.5 513.5L473.5 515.5L474.5 519.5L474.5 516.5L475.5 519.5L476.5 514.5L476.5 518.5L477.5 515.5L477.5 519.5L478.5 516.5L479.5 519.5L479.5 519.5L480.5 478.5L481.5 516.5L481.5 495.5L482.5 515.5L482.5 519.5L483.5 516.5L484.5 519.5L484.5 515.5L485.5 518.5L486.5 516.5L486.5 519.5L487.5 516.5L487.5 518.5L488.5 516.5L489.5 519.5L489.5 516.5L490.5 513.5L491.5 511.5L491.5 519.5L492.5 509.5L492.5 501.5L493.5 516.5L494.5 518.5L494.5 516.5L495.5 515.5L496.5 515.5L496.5 520.5L497.5 515.5L497.5 520.5L498.5 516.5L499.5 519.5L499.5 514.5L500.5 519.5L500.5 515.5L501.5 519.5L502.5 507.5L502.5 518.5L503.5 516.5L504.5 519.5L504.5 507.5L505.5 515.5L505.5 517.5L506.5 519.5L507.5 515.5L507.5 519.5L508.5 516.5L509.5 519.5L509.5 516.5L510.5 519.5L510.5 516.5L511.5 513.5L512.5 517.5L512.5 518.5L513.5 515.5L514.5 518.5L514.5 517.5L515.5 518.5L515.5 515.5L516.5 509.5L517.5 515.5L517.5 519.5L518.5 515.5L519.5 519.5L519.5 517.5L520.5 517.5L520.5 515.5L521.5 519.5L522.5 511.5L522.5 519.5L523.5 516.5L523.5 519.5L524.5 517.5L525.5 519.5L525.5 516.5L526.5 515.5L527.5 509.5L527.5 517.5L528.5 515.5L528.5 519.5L529.5 510.5L530.5 518.5L530.5 506.5L531.5 512.5L532.5 509.5L532.5 519.5L533.5 518.5L533.5 519.5L534.5 516.5L535.5 519.5L535.5 513.5L536.5 519.5L537.5 517.5L537.5 519.5L538.5 512.5L538.5 514.5L539.5 517.5L540.5 516.5L540.5 516.5L541.5 518.5L542.5 516.5L542.5 516.5L543.5 515.5L543.5 519.5L544.5 509.5L545.5 518.5L545.5 519.5L546.5 512.5L546.5 516.5L547.5 517.5L548.5 505.5L548.5 519.5L549.5 516.5L550.5 519.5L550.5 517.5L551.5 519.5L551.5 516.5L552.5 517.5L553.5 510.5L553.5 519.5L554.5 516.5L555.5 518.5L555.5 510.5L556.5 501.5L556.5 504.5L557.5 519.5L558.5 515.5L558.5 514.5L559.5 516.5L560.5 519.5L560.5 516.5L561.5 511.5L561.5 518.5L562.5 519.5L563.5 517.5L563.5 519.5L564.5 516.5L564.5 514.5L565.5 517.5L566.5 512.5L566.5 517.5L567.5 519.5L568.5 502.5L568.5 519.5L569.5 513.5L569.5 519.5L570.5 516.5L571.5 519.5L571.5 515.5L572.5 518.5L573.5 515.5L573.5 514.5L574.5 513.5L574.5 516.5L575.5 516.5L576.5 513.5L576.5 507.5L577.5 519.5L578.5 519.5L578.5 511.5L579.5 516.5L579.5 518.5L580.5 508.5L581.5 514.5L581.5 515.5L582.5 518.5L583.5 515.5L583.5 519.5L584.5 512.5L584.5 519.5L585.5 517.5L586.5 519.5L586.5 502.5L587.5 519.5L587.5 515.5L588.5 519.5L589.5 510.5L589.5 519.5L590.5 515.5L591.5 519.5L591.5 516.5L592.5 519.5L592.5 513.5L593.5 516.5L594.5 516.5L594.5 519.5L595.5 516.5L596.5 519.5L596.5 516.5L597.5 519.5L597.5 515.5L598.5 519.5L599.5 517.5L599.5 518.5L600.5 516.5L601.5 519.5L601.5 501.5L602.5 516.5L602.5 516.5L603.5 519.5L604.5 516.5L604.5 519.5L605.5 516.5L606.5 480.5L606.5 511.5L607.5 515.5L607.5 497.5L608.5 518.5L609.5 515.5L609.5 519.5L610.5 516.5L610.5 501.5L611.5 509.5L612.5 520.5L612.5 509.5L613.5 519.5L614.5 516.5L614.5 519.5L615.5 515.5L615.5 519.5L616.5 516.5L617.5 519.5L617.5 515.5L618.5 520.5L619.5 515.5L619.5 520.5L620.5 517.5L620.5 519.5L621.5 515.5L622.5 519.5L622.5 515.5L623.5 520.5L624.5 515.5L624.5 513.5L625.5 515.5L625.5 518.5L626.5 516.5L627.5 519.5L627.5 517.5L628.5 519.5L629.5 515.5L629.5 519.5L630.5 515.5L630.5 519.5L631.5 513.5L632.5 519.5L632.5 516.5L633.5 519.5L633.5 512.5L634.5 518.5L635.5 516.5L635.5 512.5L636.5 515.5L637.5 515.5L637.5 516.5L638.5 519.5L638.5 515.5L639.5 520.5L640.5 516.5L640.5 518.5L641.5 516.5L642.5 515.5L642.5 515.5L643.5 518.5L643.5 515.5L644.5 503.5L645.5 516.5L645.5 519.5L646.5 516.5L647.5 519.5L647.5 516.5L648.5 519.5L648.5 516.5L649.5 518.5L650.5 511.5L650.5 516.5L651.5 515.5L652.5 519.5L652.5 518.5L653.5 518.5L653.5 512.5L654.5 518.5L655.5 513.5L655.5 519.5L656.5 515.5L656.5 519.5L657.5 516.5L658.5 517.5L658.5 515.5L659.5 511.5L660.5 509.5L660.5 518.5L661.5 516.5L661.5 519.5L662.5 512.5L663.5 519.5L663.5 515.5L664.5 519.5L665.5 515.5L665.5 519.5L666.5 512.5L666.5 519.5L667.5 518.5L668.5 519.5L668.5 494.5L669.5 519.5L670.5 516.5L670.5 519.5L671.5 517.5L671.5 519.5L672.5 515.5L673.5 519.5L673.5 516.5L674.5 519.5L675.5 514.5L675.5 519.5L676.5 519.5L676.5 512.5L677.5 516.5L678.5 519.5L678.5 516.5L679.5 517.5L679.5 515.5L680.5 519.5L681.5 515.5L681.5 519.5L682.5 517.5L683.5 519.5L683.5 515.5L684.5 513.5L684.5 509.5L685.5 516.5L686.5 516.5L686.5 514.5L687.5 516.5L688.5 514.5L688.5 519.5L689.5 516.5L689.5 519.5L690.5 507.5L691.5 515.5L691.5 519.5L692.5 502.5L693.5 519.5L693.5 515.5L694.5 518.5L694.5 512.5L695.5 515.5L696.5 510.5L696.5 519.5L697.5 510.5L698.5 512.5L698.5 516.5L699.5 519.5L699.5 515.5L700.5 519.5L701.5 508.5L701.5 518.5L702.5 514.5L702.5 519.5L703.5 516.5L704.5 516.5L704.5 516.5L705.5 517.5L706.5 514.5L706.5 519.5L707.5 516.5L707.5 501.5L708.5 506.5L709.5 519.5L709.5 516.5L710.5 518.5L711.5 516.5L711.5 519.5L712.5 507.5L712.5 520.5L713.5 515.5L714.5 519.5L714.5 511.5L715.5 518.5L716.5 509.5L716.5 501.5L717.5 512.5L717.5 519.5L718.5 516.5L719.5 519.5L719.5 515.5L720.5 519.5L721.5 515.5L721.5 519.5L722.5 511.5L722.5 519.5L723.5 515.5L724.5 518.5L724.5 515.5L725.5 519.5L725.5 515.5L726.5 519.5L727.5 516.5L727.5 519.5L728.5 515.5L729.5 519.5L729.5 508.5L730.5 520.5L730.5 512.5L731.5 516.5L732.5 515.5L732.5 503.5L733.5 516.5L734.5 512.5L734.5 509.5L735.5 517.5L735.5 516.5L736.5 519.5L737.5 516.5L737.5 519.5L738.5 512.5L739.5 520.5L739.5 511.5L740.5 518.5L740.5 519.5L741.5 518.5L742.5 516.5L742.5 519.5L743.5 513.5L743.5 515.5L744.5 512.5L745.5 512.5L745.5 516.5L746.5 519.5L747.5 516.5L747.5 519.5L748.5 515.5L748.5 515.5L749.5 512.5L750.5 514.5L750.5 515.5L751.5 518.5L752.5 516.5L752.5 519.5L753.5 515.5L753.5 513.5L754.5 511.5L755.5 519.5L755.5 503.5L756.5 512.5L757.5 519.5L757.5 518.5L758.5 515.5L758.5 518.5L759.5 515.5L760.5 518.5L760.5 515.5L761.5 519.5L762.5 517.5L762.5 518.5L763.5 514.5L763.5 519.5L764.5 517.5L765.5 513.5L765.5 516.5L766.5 519.5L766.5 509.5L767.5 518.5L768.5 517.5L768.5 517.5L769.5 516.5L770.5 508.5L770.5 508.5L771.5 510.5L771.5 516.5L772.5 519.5L773.5 516.5L773.5 513.5L774.5 515.5L775.5 514.5L775.5 516.5L776.5 511.5L776.5 516.5L777.5 519.5L778.5 515.5L778.5 519.5L779.5 517.5L780.5 519.5L780.5 515.5L781.5 519.5L781.5 516.5L782.5 519.5L783.5 512.5L783.5 480.5L784.5 515.5L785.5 500.5L785.5 511.5L786.5 519.5L786.5 510.5L787.5 519.5L788.5 510.5L788.5 519.5L789.5 513.5L789.5 518.5L790.5 515.5L791.5 513.5L791.5 516.5L792.5 519.5L793.5 517.5L793.5 519.5L794.5 516.5L794.5 520.5L795.5 516.5L796.5 517.5L796.5 516.5L797.5 519.5L798.5 517.5L798.5 516.5L799.5 515.5L799.5 518.5L800.5 510.5L801.5 514.5L801.5 515.5L802.5 515.5L803.5 515.5L803.5 519.5L804.5 505.5L804.5 519.5L805.5 516.5L806.5 516.5L806.5 517.5L807.5 519.5L808.5 508.5L808.5 519.5L809.5 505.5L809.5 520.5L810.5 516.5L811.5 515.5L811.5 516.5L812.5 519.5L812.5 516.5L813.5 519.5L814.5 515.5L814.5 519.5L815.5 511.5L816.5 520.5L816.5 516.5L817.5 519.5L817.5 515.5L818.5 503.5L819.5 515.5L819.5 519.5L820.5 511.5L821.5 515.5L821.5 515.5L822.5 518.5L822.5 517.5L823.5 518.5L824.5 515.5L824.5 515.5L825.5 512.5L826.5 519.5L826.5 515.5L827.5 519.5L827.5 515.5L828.5 494.5L829.5 516.5L829.5 516.5L830.5 509.5L831.5 519.5L831.5 516.5L832.5 519.5L832.5 516.5L833.5 519.5L834.5 507.5L834.5 519.5L835.5 515.5L835.5 519.5L836.5 515.5L837.5 504.5L837.5 509.5L838.5 519.5L839.5 515.5L839.5 502.5L840.5 513.5L840.5 519.5L841.5 516.5L842.5 513.5L842.5 515.5L843.5 519.5L844.5 506.5L844.5 518.5L845.5 516.5L845.5 519.5L846.5 513.5L847.5 519.5L847.5 509.5L848.5 514.5L849.5 504.5L849.5 519.5L850.5 516.5L850.5 519.5L851.5 516.5L852.5 518.5L852.5 516.5L853.5 519.5L854.5 515.5L854.5 519.5L855.5 512.5L855.5 511.5L856.5 478.5L857.5 519.5L857.5 495.5L858.5 515.5L858.5 516.5L859.5 518.5L860.5 516.5L860.5 518.5L861.5 516.5L862.5 510.5L862.5 515.5L863.5 519.5L863.5 517.5L864.5 519.5L865.5 517.5L865.5 511.5L866.5 519.5L867.5 514.5L867.5 511.5L868.5 519.5L868.5 515.5L869.5 506.5L870.5 516.5L870.5 519.5L871.5 517.5L872.5 512.5L872.5 516.5L873.5 518.5L873.5 516.5L874.5 507.5L875.5 515.5L875.5 519.5L876.5 515.5L877.5 516.5L877.5 515.5L878.5 518.5L878.5 516.5L879.5 520.5L880.5 517.5L880.5 519.5L881.5 515.5L881.5 496.5L882.5 507.5L883.5 506.5L883.5 516.5L884.5 518.5L885.5 516.5L885.5 519.5L886.5 511.5L886.5 520.5L887.5 516.5L888.5 514.5L888.5 515.5L889.5 519.5L890.5 508.5L890.5 513.5L891.5 515.5L891.5 518.5L892.5 515.5L893.5 519.5L893.5 513.5L894.5 519.5L895.5 516.5L895.5 515.5L896.5 515.5L896.5 517.5L897.5 510.5L898.5 519.5L898.5 516.5L899.5 519.5L900.5 513.5L900.5 508.5L901.5 516.5L901.5 519.5L902.5 515.5L903.5 513.5L903.5 516.5L904.5 518.5L904.5 515.5L905.5 519.5L906.5 516.5L906.5 517.5L907.5 517.5L908.5 516.5L908.5 515.5L909.5 520.5L909.5 515.5L910.5 520.5L911.5 513.5L911.5 512.5L912.5 516.5L913.5 519.5L913.5 514.5L914.5 519.5L914.5 515.5L915.5 519.5L916.5 515.5L916.5 519.5L917.5 516.5L918.5 519.5L918.5 501.5L919.5 519.5L919.5 515.5L920.5 519.5L921.5 515.5L921.5 519.5L922.5 513.5L922.5 506.5L923.5 515.5L924.5 519.5L924.5 513.5L925.5 519.5L926.5 515.5L926.5 519.5L927.5 515.5L927.5 519.5L928.5 515.5L929.5 519.5L929.5 508.5L930.5 514.5L931.5 511.5L931.5 519.5L932.5 515.5L932.5 519.5L933.5 511.5L934.5 517.5L934.5 512.5L935.5 518.5L936.5 517.5L936.5 518.5L937.5 515.5L937.5 519.5L938.5 516.5L939.5 514.5L939.5 516.5L940.5 517.5L941.5 516.5L941.5 519.5L942.5 515.5L942.5 519.5L943.5 515.5L944.5 519.5L944.5 516.5L945.5 519.5L945.5 509.5L946.5 504.5L947.5 517.5L947.5 519.5L948.5 515.5L949.5 512.5L949.5 517.5L950.5 518.5L950.5 516.5L951.5 516.5L952.5 516.5L952.5 520.5L953.5 516.5L954.5 519.5L954.5 517.5L955.5 518.5L955.5 515.5L956.5 518.5L957.5 511.5L957.5 516.5L958.5 503.5L959.5 516.5L959.5 515.5L960.5 518.5L960.5 512.5L961.5 518.5L962.5 515.5L962.5 515.5L963.5 503.5L964.5 517.5L964.5 516.5L965.5 516.5L965.5 515.5L966.5 519.5L967.5 516.5L967.5 512.5L968.5 515.5L968.5 519.5L969.5 516.5L970.5 519.5L970.5 516.5L971.5 512.5L972.5 518.5L972.5 519.5L973.5 516.5L973.5 520.5L974.5 515.5L975.5 519.5L975.5 515.5L976.5 519.5L977.5 515.5L977.5 511.5L978.5 517.5L978.5 508.5L979.5 516.5L980.5 519.5L980.5 516.5L981.5 519.5L982.5 516.5L982.5 519.5L983.5 515.5L983.5 520.5L984.5 516.5L985.5 518.5L985.5 513.5L986.5 519.5L987.5 512.5L987.5 509.5L988.5 515.5L988.5 513.5M94.5 508.5L95.5 515.5L95.5 516.5L96.5 515.5L96.5 510.5L97.5 516.5L98.5 518.5L98.5 504.5L99.5 518.5L100.5 512.5L100.5 517.5L101.5 517.5L101.5 519.5L102.5 515.5L103.5 519.5L103.5 516.5L104.5 515.5L105.5 516.5L105.5 514.5L106.5 515.5L106.5 519.5L107.5 517.5L108.5 513.5L108.5 516.5L109.5 514.5L110.5 515.5L110.5 513.5L111.5 515.5L111.5 517.5L112.5 516.5L113.5 519.5L113.5 515.5L114.5 519.5L115.5 514.5L115.5 519.5L116.5 505.5L116.5 519.5L117.5 516.5L118.5 519.5L118.5 516.5L119.5 520.5L119.5 515.5L120.5 519.5L121.5 516.5L121.5 519.5L122.5 514.5L123.5 518.5L123.5 516.5L124.5 519.5L124.5 516.5L125.5 519.5L126.5 515.5L126.5 519.5L127.5 516.5L128.5 516.5L128.5 517.5L129.5 519.5L129.5 516.5L130.5 519.5L131.5 515.5L131.5 516.5M131.8 512.5H168.5M131.8 512.8L168.5 518" stroke="#009e73"/>
<path d="M169.5 514.5L169.5 504.5L170.5 514.5L170.5 514.5L171.5 520.5L172.5 514.5L172.5 517.5L173.5 514.5L174.5 514.5L174.5 514.5L175.5 509.5L175.5 520.5L176.5 514.5L177.5 514.5L177.5 514.5L178.5 514.5L179.5 514.5L179.5 514.5L180.5 514.5L180.5 514.5L181.5 518.5L182.5 514.5L182.5 514.5L183.5 514.5L184.5 514.5L184.5 514.5L185.5 514.5L185.5 514.5L186.5 514.5L187.5 514.5L187.5 507.5L188.5 514.5L188.5 514.5L189.5 514.5L190.5 514.5L190.5 518.5L191.5 519.5L192.5 512.5L192.5 514.5L193.5 514.5L193.5 514.5L194.5 514.5L195.5 509.5L195.5 514.5L196.5 508.5L197.5 514.5L197.5 514.5L198.5 514.5L198.5 514.5L199.5 514.5L200.5 514.5L200.5 514.5L201.5 514.5L202.5 508.5L202.5 514.5L203.5 507.5L203.5 510.5L204.5 514.5L205.5 516.5L205.5 514.5L206.5 514.5L206.5 514.5L207.5 514.5L208.5 514.5L208.5 514.5L209.5 514.5L210.5 508.5L210.5 519.5L211.5 514.5L211.5 514.5L212.5 508.5L213.5 514.5L213.5 514.5L214.5 514.5L215.5 517.5L215.5 514.5L216.5 514.5L216.5 514.5L217.5 514.5L218.5 513.5L218.5 514.5L219.5 514.5L220.5 510.5L220.5 514.5L221.5 514.5L221.5 514.5L222.5 514.5L223.5 514.5L223.5 508.5L224.5 514.5L225.5 514.5L225.5 514.5L226.5 514.5L226.5 514.5L227.5 514.5L228.5 514.5L228.5 514.5L229.5 514.5L229.5 514.5L230.5 509.5L231.5 514.5L231.5 514.5L232.5 514.5L233.5 514.5L233.5 514.5L234.5 514.5L234.5 514.5L235.5 511.5L236.5 514.5L236.5 512.5L237.5 514.5L238.5 514.5L238.5 509.5L239.5 514.5L239.5 514.5L240.5 514.5L241.5 514.5L241.5 514.5L242.5 514.5L243.5 519.5L243.5 516.5L244.5 508.5L244.5 514.5L245.5 514.5L246.5 511.5L246.5 514.5L247.5 512.5L248.5 514.5L248.5 514.5L249.5 514.5L249.5 514.5L250.5 514.5L251.5 514.5L251.5 514.5L252.5 514.5L252.5 514.5L253.5 514.5L254.5 513.5L254.5 514.5L255.5 517.5L256.5 518.5L256.5 514.5L257.5 514.5L257.5 514.5L258.5 512.5L259.5 514.5L259.5 514.5L260.5 510.5L261.5 514.5L261.5 514.5L262.5 507.5L262.5 514.5L263.5 514.5L264.5 514.5L264.5 514.5L265.5 506.5L266.5 514.5L266.5 508.5L267.5 511.5L267.5 514.5L268.5 514.5L269.5 514.5L269.5 514.5L270.5 514.5L271.5 516.5L271.5 514.5L272.5 514.5L272.5 514.5L273.5 514.5L274.5 514.5L274.5 510.5L275.5 514.5L275.5 517.5L276.5 514.5L277.5 518.5L277.5 514.5L278.5 508.5L279.5 514.5L279.5 514.5L280.5 508.5L280.5 514.5L281.5 514.5L282.5 514.5L282.5 514.5L283.5 509.5L284.5 511.5L284.5 513.5L285.5 514.5L285.5 508.5L286.5 514.5L287.5 513.5L287.5 520.5L288.5 503.5L289.5 514.5L289.5 518.5L290.5 514.5L290.5 514.5L291.5 514.5L292.5 514.5L292.5 513.5L293.5 513.5L294.5 514.5L294.5 510.5L295.5 508.5L295.5 512.5L296.5 514.5L297.5 514.5L297.5 514.5L298.5 514.5L298.5 514.5L299.5 514.5L300.5 514.5L300.5 514.5L301.5 514.5L302.5 514.5L302.5 514.5L303.5 514.5L303.5 511.5L304.5 514.5L305.5 514.5L305.5 519.5L306.5 511.5L307.5 514.5L307.5 516.5L308.5 514.5L308.5 514.5L309.5 514.5L310.5 514.5L310.5 513.5L311.5 514.5L312.5 514.5L312.5 503.5L313.5 514.5L313.5 514.5L314.5 514.5L315.5 514.5L315.5 514.5L316.5 514.5L317.5 511.5L317.5 516.5L318.5 514.5L318.5 514.5L319.5 514.5L320.5 511.5L320.5 512.5L321.5 514.5L321.5 514.5L322.5 514.5L323.5 514.5L323.5 514.5L324.5 514.5L325.5 514.5L325.5 514.5L326.5 514.5L326.5 514.5L327.5 514.5L328.5 514.5L328.5 514.5L329.5 517.5L330.5 514.5L330.5 514.5L331.5 514.5L331.5 514.5L332.5 519.5L333.5 514.5L333.5 509.5L334.5 520.5L335.5 511.5L335.5 514.5L336.5 514.5L336.5 514.5L337.5 514.5L338.5 519.5L338.5 512.5L339.5 511.5L340.5 514.5L340.5 514.5L341.5 514.5L341.5 514.5L342.5 517.5L343.5 514.5L343.5 507.5L344.5 508.5L344.5 514.5L345.5 514.5L346.5 517.5L346.5 514.5L347.5 514.5L348.5 514.5L348.5 509.5L349.5 514.5L349.5 514.5L350.5 514.5L351.5 514.5L351.5 514.5L352.5 514.5L353.5 514.5L353.5 514.5L354.5 513.5L354.5 514.5L355.5 514.5L356.5 518.5L356.5 514.5L357.5 514.5L358.5 514.5L358.5 514.5L359.5 514.5L359.5 514.5L360.5 508.5L361.5 514.5L361.5 514.5L362.5 514.5L363.5 518.5L363.5 514.5L364.5 509.5L364.5 514.5L365.5 514.5L366.5 514.5L366.5 512.5L367.5 514.5L367.5 514.5L368.5 514.5L369.5 514.5L369.5 514.5L370.5 514.5L371.5 489.5L371.5 514.5L372.5 512.5L372.5 514.5L373.5 514.5L374.5 513.5L374.5 514.5L375.5 517.5L376.5 511.5L376.5 514.5L377.5 517.5L377.5 514.5L378.5 514.5L379.5 514.5L379.5 514.5L380.5 514.5L381.5 514.5L381.5 514.5L382.5 514.5L382.5 514.5L383.5 517.5L384.5 514.5L384.5 514.5L385.5 518.5L385.5 514.5L386.5 514.5L387.5 514.5L387.5 514.5L388.5 514.5L389.5 518.5L389.5 514.5L390.5 514.5L390.5 514.5L391.5 514.5L392.5 514.5L392.5 514.5L393.5 514.5L394.5 514.5L394.5 513.5L395.5 518.5L395.5 514.5L396.5 514.5L397.5 514.5L397.5 514.5L398.5 514.5L399.5 514.5L399.5 514.5L400.5 514.5L400.5 514.5L401.5 514.5L402.5 514.5L402.5 514.5L403.5 519.5L404.5 514.5L404.5 514.5L405.5 514.5L405.5 504.5L406.5 514.5L407.5 513.5L407.5 514.5L408.5 514.5L408.5 514.5L409.5 514.5L410.5 514.5L410.5 514.5L411.5 514.5L412.5 514.5L412.5 514.5L413.5 508.5L413.5 514.5L414.5 514.5L415.5 514.5L415.5 507.5L416.5 514.5L417.5 514.5L417.5 514.5L418.5 509.5L418.5 514.5L419.5 514.5L420.5 509.5L420.5 514.5L421.5 514.5L422.5 514.5L422.5 514.5L423.5 519.5L423.5 514.5L424.5 514.5L425.5 514.5L425.5 514.5L426.5 514.5L427.5 514.5L427.5 514.5L428.5 514.5L428.5 519.5L429.5 520.5L430.5 514.5L430.5 514.5L431.5 514.5L431.5 514.5L432.5 514.5L433.5 514.5L433.5 514.5L434.5 514.5L435.5 514.5L435.5 514.5L436.5 514.5L436.5 514.5L437.5 513.5L438.5 514.5L438.5 514.5L439.5 514.5L440.5 518.5L440.5 514.5L441.5 514.5L441.5 514.5L442.5 514.5L443.5 514.5L443.5 514.5L444.5 511.5L445.5 514.5L445.5 514.5L446.5 510.5L446.5 514.5L447.5 512.5L448.5 514.5L448.5 514.5L449.5 514.5L450.5 514.5L450.5 514.5L451.5 514.5L451.5 513.5L452.5 514.5L453.5 514.5L453.5 514.5L454.5 514.5L454.5 514.5L455.5 505.5L456.5 519.5L456.5 514.5L457.5 514.5L458.5 514.5L458.5 514.5L459.5 514.5L459.5 514.5L460.5 514.5L461.5 514.5L461.5 514.5L462.5 517.5L463.5 514.5L463.5 514.5L464.5 511.5L464.5 514.5L465.5 514.5L466.5 514.5L466.5 514.5L467.5 514.5L468.5 507.5L468.5 514.5L469.5 514.5L469.5 514.5L470.5 514.5L471.5 514.5L471.5 514.5L472.5 514.5L473.5 517.5L473.5 512.5L474.5 514.5L474.5 514.5L475.5 509.5L476.5 514.5L476.5 514.5L477.5 514.5L477.5 514.5L478.5 514.5L479.5 513.5L479.5 514.5L480.5 514.5L481.5 516.5L481.5 514.5L482.5 514.5L482.5 514.5L483.5 514.5L484.5 514.5L484.5 514.5L485.5 514.5L486.5 514.5L486.5 514.5L487.5 514.5L487.5 514.5L488.5 514.5L489.5 514.5L489.5 514.5L490.5 514.5L491.5 510.5L491.5 514.5L492.5 514.5L492.5 510.5L493.5 514.5L494.5 514.5L494.5 514.5L495.5 514.5L496.5 514.5L496.5 514.5L497.5 514.5L497.5 514.5L498.5 514.5L499.5 514.5L499.5 509.5L500.5 514.5L500.5 510.5L501.5 514.5L502.5 514.5L502.5 514.5L503.5 514.5L504.5 514.5L504.5 514.5L505.5 514.5L505.5 514.5L506.5 513.5L507.5 514.5L507.5 513.5L508.5 513.5L509.5 514.5L509.5 514.5L510.5 514.5L510.5 514.5L511.5 513.5L512.5 514.5L512.5 518.5L513.5 514.5L514.5 514.5L514.5 514.5L515.5 509.5L515.5 514.5L516.5 514.5L517.5 514.5L517.5 514.5L518.5 514.5L519.5 514.5L519.5 514.5L520.5 514.5L520.5 514.5L521.5 513.5L522.5 514.5L522.5 514.5L523.5 514.5L523.5 514.5L524.5 512.5L525.5 514.5L525.5 516.5L526.5 514.5L527.5 517.5L527.5 514.5L528.5 514.5L528.5 514.5L529.5 514.5L530.5 518.5L530.5 514.5L531.5 514.5L532.5 514.5L532.5 514.5L533.5 514.5L533.5 512.5L534.5 514.5L535.5 505.5L535.5 503.5L536.5 514.5L537.5 514.5L537.5 514.5L538.5 514.5L538.5 511.5L539.5 514.5L540.5 514.5L540.5 514.5L541.5 513.5L542.5 514.5L542.5 518.5L543.5 514.5L543.5 514.5L544.5 506.5L545.5 508.5L545.5 514.5L546.5 514.5L546.5 514.5L547.5 508.5L548.5 511.5L548.5 514.5L549.5 514.5L550.5 507.5L550.5 514.5L551.5 514.5L551.5 514.5L552.5 514.5L553.5 514.5L553.5 514.5L554.5 508.5L555.5 514.5L555.5 503.5L556.5 513.5L556.5 511.5L557.5 514.5L558.5 514.5L558.5 514.5L559.5 514.5L560.5 514.5L560.5 514.5L561.5 514.5L561.5 518.5L562.5 514.5L563.5 510.5L563.5 514.5L564.5 514.5L564.5 514.5L565.5 514.5L566.5 512.5L566.5 514.5L567.5 514.5L568.5 518.5L568.5 514.5L569.5 517.5L569.5 514.5L570.5 514.5L571.5 514.5L571.5 516.5L572.5 514.5L573.5 514.5L573.5 514.5L574.5 514.5L574.5 514.5L575.5 514.5L576.5 514.5L576.5 514.5L577.5 514.5L578.5 514.5L578.5 514.5L579.5 514.5L579.5 511.5L580.5 513.5L581.5 514.5L581.5 514.5L582.5 514.5L583.5 514.5L583.5 513.5L584.5 514.5L584.5 509.5L585.5 514.5L586.5 519.5L586.5 514.5L587.5 514.5L587.5 514.5L588.5 514.5L589.5 514.5L589.5 514.5L590.5 514.5L591.5 514.5L591.5 514.5L592.5 514.5L592.5 519.5L593.5 514.5L594.5 514.5L594.5 508.5L595.5 514.5L596.5 514.5L596.5 514.5L597.5 514.5L597.5 508.5L598.5 508.5L599.5 514.5L599.5 514.5L600.5 514.5L601.5 514.5L601.5 514.5L602.5 514.5L602.5 514.5L603.5 514.5L604.5 510.5L604.5 514.5L605.5 514.5L606.5 517.5L606.5 509.5L607.5 514.5L607.5 514.5L608.5 514.5L609.5 514.5L609.5 514.5L610.5 514.5L610.5 514.5L611.5 510.5L612.5 510.5L612.5 514.5L613.5 514.5L614.5 509.5L614.5 514.5L615.5 519.5L615.5 514.5L616.5 514.5L617.5 517.5L617.5 514.5L618.5 514.5L619.5 520.5L619.5 514.5L620.5 516.5L620.5 514.5L621.5 519.5L622.5 514.5L622.5 514.5L623.5 514.5L624.5 514.5L624.5 514.5L625.5 514.5L625.5 514.5L626.5 514.5L627.5 514.5L627.5 514.5L628.5 518.5L629.5 514.5L629.5 514.5L630.5 514.5L630.5 514.5L631.5 514.5L632.5 514.5L632.5 514.5L633.5 514.5L633.5 514.5L634.5 514.5L635.5 517.5L635.5 514.5L636.5 514.5L637.5 514.5L637.5 514.5L638.5 518.5L638.5 514.5L639.5 514.5L640.5 514.5L640.5 514.5L641.5 514.5L642.5 514.5L642.5 514.5L643.5 514.5L643.5 519.5L644.5 514.5L645.5 518.5L645.5 514.5L646.5 514.5L647.5 514.5L647.5 508.5L648.5 516.5L648.5 514.5L649.5 514.5L650.5 514.5L650.5 514.5L651.5 514.5L652.5 514.5L652.5 514.5L653.5 514.5L653.5 514.5L654.5 514.5L655.5 509.5L655.5 514.5L656.5 514.5L656.5 514.5L657.5 505.5L658.5 508.5L658.5 517.5L659.5 514.5L660.5 514.5L660.5 514.5L661.5 520.5L661.5 514.5L662.5 514.5L663.5 514.5L663.5 514.5L664.5 519.5L665.5 509.5L665.5 514.5L666.5 514.5L666.5 514.5L667.5 514.5L668.5 514.5L668.5 509.5L669.5 514.5L670.5 514.5L670.5 519.5L671.5 514.5L671.5 518.5L672.5 514.5L673.5 514.5L673.5 514.5L674.5 514.5L675.5 514.5L675.5 514.5L676.5 514.5L676.5 514.5L677.5 514.5L678.5 519.5L678.5 514.5L679.5 514.5L679.5 514.5L680.5 513.5L681.5 514.5L681.5 514.5L682.5 518.5L683.5 514.5L683.5 519.5L684.5 514.5L684.5 514.5L685.5 508.5L686.5 514.5L686.5 514.5L687.5 514.5L688.5 508.5L688.5 514.5L689.5 508.5L689.5 514.5L690.5 514.5L691.5 514.5L691.5 514.5L692.5 514.5L693.5 510.5L693.5 516.5L694.5 514.5L694.5 514.5L695.5 514.5L696.5 514.5L696.5 514.5L697.5 514.5L698.5 519.5L698.5 514.5L699.5 514.5L699.5 513.5L700.5 514.5L701.5 514.5L701.5 514.5L702.5 514.5L702.5 519.5L703.5 514.5L704.5 514.5L704.5 514.5L705.5 514.5L706.5 514.5L706.5 512.5L707.5 514.5L707.5 514.5L708.5 514.5L709.5 514.5L709.5 514.5L710.5 514.5L711.5 514.5L711.5 514.5L712.5 513.5L712.5 514.5L713.5 514.5L714.5 505.5L714.5 514.5L715.5 514.5L716.5 514.5L716.5 514.5L717.5 514.5L717.5 514.5L718.5 510.5L719.5 514.5L719.5 514.5L720.5 514.5L721.5 513.5L721.5 514.5L722.5 514.5L722.5 516.5L723.5 512.5L724.5 514.5L724.5 511.5L725.5 514.5L725.5 514.5L726.5 514.5L727.5 509.5L727.5 518.5L728.5 514.5L729.5 514.5L729.5 514.5L730.5 514.5L730.5 513.5L731.5 514.5L732.5 514.5L732.5 514.5L733.5 508.5L734.5 514.5L734.5 514.5L735.5 514.5L735.5 514.5L736.5 512.5L737.5 508.5L737.5 514.5L738.5 514.5L739.5 520.5L739.5 517.5L740.5 514.5L740.5 514.5L741.5 514.5L742.5 508.5L742.5 514.5L743.5 508.5L743.5 508.5L744.5 508.5L745.5 514.5L745.5 514.5L746.5 514.5L747.5 514.5L747.5 514.5L748.5 509.5L748.5 514.5L749.5 514.5L750.5 514.5L750.5 514.5L751.5 514.5L752.5 514.5L752.5 514.5L753.5 504.5L753.5 508.5L754.5 514.5L755.5 514.5L755.5 514.5L756.5 508.5L757.5 514.5L757.5 514.5L758.5 514.5L758.5 514.5L759.5 514.5L760.5 514.5L760.5 514.5L761.5 508.5L762.5 514.5L762.5 514.5L763.5 514.5L763.5 514.5L764.5 514.5L765.5 514.5L765.5 514.5L766.5 508.5L766.5 514.5L767.5 517.5L768.5 517.5L768.5 519.5L769.5 516.5L770.5 514.5L770.5 514.5L771.5 505.5L771.5 514.5L772.5 514.5L773.5 514.5L773.5 514.5L774.5 514.5L775.5 514.5L775.5 514.5L776.5 519.5L776.5 509.5L777.5 514.5L778.5 514.5L778.5 514.5L779.5 514.5L780.5 514.5L780.5 514.5L781.5 514.5L781.5 514.5L782.5 514.5L783.5 514.5L783.5 513.5L784.5 514.5L785.5 514.5L785.5 517.5L786.5 507.5L786.5 509.5L787.5 513.5L788.5 514.5L788.5 514.5L789.5 514.5L789.5 511.5L790.5 514.5L791.5 519.5L791.5 512.5L792.5 518.5L793.5 514.5L793.5 514.5L794.5 514.5L794.5 514.5L795.5 513.5L796.5 514.5L796.5 514.5L797.5 512.5L798.5 510.5L798.5 514.5L799.5 514.5L799.5 514.5L800.5 514.5L801.5 514.5L801.5 514.5L802.5 511.5L803.5 514.5L803.5 514.5L804.5 514.5L804.5 514.5L805.5 514.5L806.5 514.5L806.5 514.5L807.5 514.5L808.5 514.5L808.5 514.5L809.5 514.5L809.5 514.5L810.5 517.5L811.5 514.5L811.5 514.5L812.5 514.5L812.5 520.5L813.5 514.5L814.5 514.5L814.5 514.5L815.5 508.5L816.5 514.5L816.5 509.5L817.5 510.5L817.5 514.5L818.5 514.5L819.5 514.5L819.5 514.5L820.5 514.5L821.5 510.5L821.5 514.5L822.5 511.5L822.5 514.5L823.5 514.5L824.5 514.5L824.5 514.5L825.5 514.5L826.5 520.5L826.5 514.5L827.5 514.5L827.5 514.5L828.5 514.5L829.5 508.5L829.5 514.5L830.5 514.5L831.5 514.5L831.5 520.5L832.5 514.5L832.5 514.5L833.5 514.5L834.5 511.5L834.5 514.5L835.5 513.5L835.5 514.5L836.5 514.5L837.5 514.5L837.5 514.5L838.5 514.5L839.5 514.5L839.5 514.5L840.5 514.5L840.5 514.5L841.5 514.5L842.5 514.5L842.5 508.5L843.5 514.5L844.5 514.5L844.5 514.5L845.5 514.5L845.5 514.5L846.5 514.5L847.5 514.5L847.5 514.5L848.5 507.5L849.5 514.5L849.5 518.5L850.5 514.5L850.5 518.5L851.5 513.5L852.5 514.5L852.5 514.5L853.5 514.5L854.5 514.5L854.5 514.5L855.5 514.5L855.5 514.5L856.5 514.5L857.5 514.5L857.5 514.5L858.5 514.5L858.5 514.5L859.5 513.5L860.5 518.5L860.5 511.5L861.5 514.5L862.5 514.5L862.5 514.5L863.5 513.5L863.5 514.5L864.5 510.5L865.5 514.5L865.5 514.5L866.5 509.5L867.5 514.5L867.5 514.5L868.5 514.5L868.5 514.5L869.5 514.5L870.5 514.5L870.5 519.5L871.5 514.5L872.5 514.5L872.5 514.5L873.5 519.5L873.5 514.5L874.5 518.5L875.5 514.5L875.5 514.5L876.5 514.5L877.5 514.5L877.5 506.5L878.5 509.5L878.5 511.5L879.5 514.5L880.5 514.5L880.5 514.5L881.5 514.5L881.5 514.5L882.5 514.5L883.5 514.5L883.5 513.5L884.5 514.5L885.5 514.5L885.5 508.5L886.5 514.5L886.5 514.5L887.5 508.5L888.5 514.5L888.5 514.5L889.5 517.5L890.5 514.5L890.5 514.5L891.5 514.5L891.5 512.5L892.5 514.5L893.5 509.5L893.5 514.5L894.5 514.5L895.5 514.5L895.5 514.5L896.5 514.5L896.5 514.5L897.5 514.5L898.5 514.5L898.5 514.5L899.5 514.5L900.5 514.5L900.5 514.5L901.5 509.5L901.5 514.5L902.5 514.5L903.5 511.5L903.5 514.5L904.5 514.5L904.5 511.5L905.5 520.5L906.5 514.5L906.5 514.5L907.5 514.5L908.5 514.5L908.5 514.5L909.5 514.5L909.5 511.5L910.5 514.5L911.5 514.5L911.5 514.5L912.5 514.5L913.5 520.5L913.5 517.5L914.5 514.5L914.5 503.5L915.5 514.5L916.5 514.5L916.5 520.5L917.5 514.5L918.5 514.5L918.5 514.5L919.5 514.5L919.5 514.5L920.5 514.5L921.5 508.5L921.5 514.5L922.5 514.5L922.5 514.5L923.5 514.5L924.5 514.5L924.5 514.5L925.5 514.5L926.5 514.5L926.5 514.5L927.5 514.5L927.5 514.5L928.5 514.5L929.5 514.5L929.5 514.5L930.5 514.5L931.5 514.5L931.5 514.5L932.5 514.5L932.5 514.5L933.5 514.5L934.5 514.5L934.5 508.5L935.5 514.5L936.5 514.5L936.5 514.5L937.5 512.5L937.5 514.5L938.5 514.5L939.5 514.5L939.5 518.5L940.5 514.5L941.5 520.5L941.5 514.5L942.5 514.5L942.5 514.5L943.5 514.5L944.5 514.5L944.5 514.5L945.5 514.5L945.5 514.5L946.5 514.5L947.5 514.5L947.5 514.5L948.5 514.5L949.5 514.5L949.5 507.5L950.5 519.5L950.5 514.5L951.5 514.5L952.5 514.5L952.5 514.5L953.5 514.5L954.5 514.5L954.5 514.5L955.5 514.5L955.5 514.5L956.5 514.5L957.5 514.5L957.5 514.5L958.5 508.5L959.5 509.5L959.5 508.5L960.5 514.5L960.5 518.5L961.5 514.5L962.5 516.5L962.5 514.5L963.5 514.5L964.5 509.5L964.5 514.5L965.5 520.5L965.5 514.5L966.5 514.5L967.5 504.5L967.5 514.5L968.5 514.5L968.5 510.5L969.5 509.5L970.5 514.5L970.5 514.5L971.5 516.5L972.5 514.5L972.5 503.5L973.5 514.5L973.5 514.5L974.5 514.5L975.5 514.5L975.5 514.5L976.5 514.5L977.5 514.5L977.5 514.5L978.5 514.5L978.5 514.5L979.5 514.5L980.5 514.5L980.5 514.5L981.5 512.5L982.5 514.5L982.5 514.5L983.5 514.5L983.5 514.5L984.5 514.5L985.5 514.5L985.5 514.5L986.5 502.5L987.5 520.5L987.5 519.5L988.5 514.5L988.5 514.5M94.5 514.5L95.5 519.5L95.5 514.5L96.5 512.5L96.5 514.5L97.5 514.5L98.5 514.5L98.5 509.5L99.5 514.5L100.5 514.5L100.5 514.5L101.5 514.5L101.5 510.5L102.5 514.5L103.5 513.5L103.5 514.5L104.5 509.5L105.5 514.5L105.5 514.5L106.5 514.5L106.5 514.5L107.5 514.5L108.5 514.5L108.5 514.5L109.5 514.5L110.5 514.5L110.5 514.5L111.5 514.5L111.5 514.5L112.5 514.5L113.5 514.5L113.5 514.5L114.5 514.5L115.5 520.5L115.5 513.5L116.5 514.5L116.5 514.5L117.5 514.5L118.5 514.5L118.5 514.5L119.5 514.5L119.5 514.5L120.5 514.5L121.5 508.5L121.5 514.5L122.5 514.5L123.5 514.5L123.5 514.5L124.5 514.5L124.5 514.5L125.5 508.5L126.5 514.5L126.5 508.5L127.5 514.5L128.5 514.5L128.5 514.5L129.5 514.5L129.5 514.5L130.5 514.5L131.5 514.5L131.5 514.5M131.8 514.5H169.1" stroke="#56b4e9"/>
</g>
<path d="M923 90.5H970" stroke="#9400d3" stroke-width="1" fill="none" shape-rendering="crispEdges"/>
<path d="M923 109.5H970" stroke="#009e73" stroke-width="1" fill="none" shape-rendering="crispEdges"/>
<path d="M923 128.5H970" stroke="#56b4e9" stroke-width="1" fill="none" shape-rendering="crispEdges"/>
<rect x="163.5" y="418.5" width="12" height="12" fill="none" stroke="#e69f00" stroke-width="1" shape-rendering="crispEdges"/>
<rect x="940.5" y="141.5" width="12" height="12" fill="none" stroke="#e69f00" stroke-width="1" shape-rendering="crispEdges"/>
<rect x="163.0" y="468.0" width="13.0" height="13.0" fill="#f0e442" shape-rendering="crispEdges"/>
<rect x="348.0" y="468.0" width="13.0" height="13.0" fill="#f0e442" shape-rendering="crispEdges"/>
<rect x="940.0" y="160.0" width="13.0" height="13.0" fill="#f0e442" shape-rendering="crispEdges"/>
<circle cx="95.5" cy="480.5" r="5.0" fill="none" stroke="#0072b2" stroke-width="1.1"/><path d="M95.5 475.2v-0.8M95.5 485.8v0.8M90.2 480.5h-0.8M100.8 480.5h0.8" stroke="#0072b2" stroke-width="1" fill="none"/>
<circle cx="128.5" cy="491.5" r="5.0" fill="none" stroke="#0072b2" stroke-width="1.1"/><path d="M128.5 486.2v-0.8M128.5 496.8v0.8M123.2 491.5h-0.8M133.8 491.5h0.8" stroke="#0072b2" stroke-width="1" fill="none"/>
<circle cx="170.5" cy="493.5" r="5.0" fill="none" stroke="#0072b2" stroke-width="1.1"/><path d="M170.5 488.2v-0.8M170.5 498.8v0.8M165.2 493.5h-0.8M175.8 493.5h0.8" stroke="#0072b2" stroke-width="1" fill="none"/>
<circle cx="203.5" cy="492.5" r="5.0" fill="none" stroke="#0072b2" stroke-width="1.1"/><path d="M203.5 487.2v-0.8M203.5 497.8v0.8M198.2 492.5h-0.8M208.8 492.5h0.8" stroke="#0072b2" stroke-width="1" fill="none"/>
<circle cx="208.5" cy="492.5" r="5.0" fill="none" stroke="#0072b2" stroke-width="1.1"/><path d="M208.5 487.2v-0.8M208.5 497.8v0.8M203.2 492.5h-0.8M213.8 492.5h0.8" stroke="#0072b2" stroke-width="1" fill="none"/>
<circle cx="240.5" cy="492.5" r="5.0" fill="none" stroke="#0072b2" stroke-width="1.1"/><path d="M240.5 487.2v-0.8M240.5 497.8v0.8M235.2 492.5h-0.8M245.8 492.5h0.8" stroke="#0072b2" stroke-width="1" fill="none"/>
<circle cx="245.5" cy="492.5" r="5.0" fill="none" stroke="#0072b2" stroke-width="1.1"/><path d="M245.5 487.2v-0.8M245.5 497.8v0.8M240.2 492.5h-0.8M250.8 492.5h0.8" stroke="#0072b2" stroke-width="1" fill="none"/>
<circle cx="277.5" cy="485.5" r="5.0" fill="none" stroke="#0072b2" stroke-width="1.1"/><path d="M277.5 480.2v-0.8M277.5 490.8v0.8M272.2 485.5h-0.8M282.8 485.5h0.8" stroke="#0072b2" stroke-width="1" fill="none"/>
<circle cx="282.5" cy="483.5" r="5.0" fill="none" stroke="#0072b2" stroke-width="1.1"/><path d="M282.5 478.2v-0.8M282.5 488.8v0.8M277.2 483.5h-0.8M287.8 483.5h0.8" stroke="#0072b2" stroke-width="1" fill="none"/>
<circle cx="315.5" cy="492.5" r="5.0" fill="none" stroke="#0072b2" stroke-width="1.1"/><path d="M315.5 487.2v-0.8M315.5 497.8v0.8M310.2 492.5h-0.8M320.8 492.5h0.8" stroke="#0072b2" stroke-width="1" fill="none"/>
<circle cx="319.5" cy="485.5" r="5.0" fill="none" stroke="#0072b2" stroke-width="1.1"/><path d="M319.5 480.2v-0.8M319.5 490.8v0.8M314.2 485.5h-0.8M324.8 485.5h0.8" stroke="#0072b2" stroke-width="1" fill="none"/>
<circle cx="352.5" cy="484.5" r="5.0" fill="none" stroke="#0072b2" stroke-width="1.1"/><path d="M352.5 479.2v-0.8M352.5 489.8v0.8M347.2 484.5h-0.8M357.8 484.5h0.8" stroke="#0072b2" stroke-width="1" fill="none"/>
<circle cx="356.5" cy="485.5" r="5.0" fill="none" stroke="#0072b2" stroke-width="1.1"/><path d="M356.5 480.2v-0.8M356.5 490.8v0.8M351.2 485.5h-0.8M361.8 485.5h0.8" stroke="#0072b2" stroke-width="1" fill="none"/>
<circle cx="389.5" cy="488.5" r="5.0" fill="none" stroke="#0072b2" stroke-width="1.1"/><path d="M389.5 483.2v-0.8M389.5 493.8v0.8M384.2 488.5h-0.8M394.8 488.5h0.8" stroke="#0072b2" stroke-width="1" fill="none"/>
<circle cx="394.5" cy="484.5" r="5.0" fill="none" stroke="#0072b2" stroke-width="1.1"/><path d="M394.5 479.2v-0.8M394.5 489.8v0.8M389.2 484.5h-0.8M399.8 484.5h0.8" stroke="#0072b2" stroke-width="1" fill="none"/>
<circle cx="427.5" cy="490.5" r="5.0" fill="none" stroke="#0072b2" stroke-width="1.1"/><path d="M427.5 485.2v-0.8M427.5 495.8v0.8M422.2 490.5h-0.8M432.8 490.5h0.8" stroke="#0072b2" stroke-width="1" fill="none"/>
<circle cx="431.5" cy="491.5" r="5.0" fill="none" stroke="#0072b2" stroke-width="1.1"/><path d="M431.5 486.2v-0.8M431.5 496.8v0.8M426.2 491.5h-0.8M436.8 491.5h0.8" stroke="#0072b2" stroke-width="1" fill="none"/>
<circle cx="464.5" cy="483.5" r="5.0" fill="none" stroke="#0072b2" stroke-width="1.1"/><path d="M464.5 478.2v-0.8M464.5 488.8v0.8M459.2 483.5h-0.8M469.8 483.5h0.8" stroke="#0072b2" stroke-width="1" fill="none"/>
<circle cx="468.5" cy="490.5" r="5.0" fill="none" stroke="#0072b2" stroke-width="1.1"/><path d="M468.5 485.2v-0.8M468.5 495.8v0.8M463.2 490.5h-0.8M473.8 490.5h0.8" stroke="#0072b2" stroke-width="1" fill="none"/>
<circle cx="501.5" cy="485.5" r="5.0" fill="none" stroke="#0072b2" stroke-width="1.1"/><path d="M501.5 480.2v-0.8M501.5 490.8v0.8M496.2 485.5h-0.8M506.8 485.5h0.8" stroke="#0072b2" stroke-width="1" fill="none"/>
<circle cx="505.5" cy="491.5" r="5.0" fill="none" stroke="#0072b2" stroke-width="1.1"/><path d="M505.5 486.2v-0.8M505.5 496.8v0.8M500.2 491.5h-0.8M510.8 491.5h0.8" stroke="#0072b2" stroke-width="1" fill="none"/>
<circle cx="538.5" cy="490.5" r="5.0" fill="none" stroke="#0072b2" stroke-width="1.1"/><path d="M538.5 485.2v-0.8M538.5 495.8v0.8M533.2 490.5h-0.8M543.8 490.5h0.8" stroke="#0072b2" stroke-width="1" fill="none"/>
<circle cx="543.5" cy="491.5" r="5.0" fill="none" stroke="#0072b2" stroke-width="1.1"/><path d="M543.5 486.2v-0.8M543.5 496.8v0.8M538.2 491.5h-0.8M548.8 491.5h0.8" stroke="#0072b2" stroke-width="1" fill="none"/>
<circle cx="576.5" cy="483.5" r="5.0" fill="none" stroke="#0072b2" stroke-width="1.1"/><path d="M576.5 478.2v-0.8M576.5 488.8v0.8M571.2 483.5h-0.8M581.8 483.5h0.8" stroke="#0072b2" stroke-width="1" fill="none"/>
<circle cx="580.5" cy="492.5" r="5.0" fill="none" stroke="#0072b2" stroke-width="1.1"/><path d="M580.5 487.2v-0.8M580.5 497.8v0.8M575.2 492.5h-0.8M585.8 492.5h0.8" stroke="#0072b2" stroke-width="1" fill="none"/>
<circle cx="613.5" cy="483.5" r="5.0" fill="none" stroke="#0072b2" stroke-width="1.1"/><path d="M613.5 478.2v-0.8M613.5 488.8v0.8M608.2 483.5h-0.8M618.8 483.5h0.8" stroke="#0072b2" stroke-width="1" fill="none"/>
<circle cx="617.5" cy="484.5" r="5.0" fill="none" stroke="#0072b2" stroke-width="1.1"/><path d="M617.5 479.2v-0.8M617.5 489.8v0.8M612.2 484.5h-0.8M622.8 484.5h0.8" stroke="#0072b2" stroke-width="1" fill="none"/>
<circle cx="650.5" cy="490.5" r="5.0" fill="none" stroke="#0072b2" stroke-width="1.1"/><path d="M650.5 485.2v-0.8M650.5 495.8v0.8M645.2 490.5h-0.8M655.8 490.5h0.8" stroke="#0072b2" stroke-width="1" fill="none"/>
<circle cx="655.5" cy="484.5" r="5.0" fill="none" stroke="#0072b2" stroke-width="1.1"/><path d="M655.5 479.2v-0.8M655.5 489.8v0.8M650.2 484.5h-0.8M660.8 484.5h0.8" stroke="#0072b2" stroke-width="1" fill="none"/>
<circle cx="688.5" cy="485.5" r="5.0" fill="none" stroke="#0072b2" stroke-width="1.1"/><path d="M688.5 480.2v-0.8M688.5 490.8v0.8M683.2 485.5h-0.8M693.8 485.5h0.8" stroke="#0072b2" stroke-width="1" fill="none"/>
<circle cx="692.5" cy="492.5" r="5.0" fill="none" stroke="#0072b2" stroke-width="1.1"/><path d="M692.5 487.2v-0.8M692.5 497.8v0.8M687.2 492.5h-0.8M697.8 492.5h0.8" stroke="#0072b2" stroke-width="1" fill="none"/>
<circle cx="725.5" cy="485.5" r="5.0" fill="none" stroke="#0072b2" stroke-width="1.1"/><path d="M725.5 480.2v-0.8M725.5 490.8v0.8M720.2 485.5h-0.8M730.8 485.5h0.8" stroke="#0072b2" stroke-width="1" fill="none"/>
<circle cx="730.5" cy="483.5" r="5.0" fill="none" stroke="#0072b2" stroke-width="1.1"/><path d="M730.5 478.2v-0.8M730.5 488.8v0.8M725.2 483.5h-0.8M735.8 483.5h0.8" stroke="#0072b2" stroke-width="1" fill="none"/>
<circle cx="762.5" cy="481.5" r="5.0" fill="none" stroke="#0072b2" stroke-width="1.1"/><path d="M762.5 476.2v-0.8M762.5 486.8v0.8M757.2 481.5h-0.8M767.8 481.5h0.8" stroke="#0072b2" stroke-width="1" fill="none"/>
<circle cx="766.5" cy="489.5" r="5.0" fill="none" stroke="#0072b2" stroke-width="1.1"/><path d="M766.5 484.2v-0.8M766.5 494.8v0.8M761.2 489.5h-0.8M771.8 489.5h0.8" stroke="#0072b2" stroke-width="1" fill="none"/>
<circle cx="799.5" cy="484.5" r="5.0" fill="none" stroke="#0072b2" stroke-width="1.1"/><path d="M799.5 479.2v-0.8M799.5 489.8v0.8M794.2 484.5h-0.8M804.8 484.5h0.8" stroke="#0072b2" stroke-width="1" fill="none"/>
<circle cx="804.5" cy="483.5" r="5.0" fill="none" stroke="#0072b2" stroke-width="1.1"/><path d="M804.5 478.2v-0.8M804.5 488.8v0.8M799.2 483.5h-0.8M809.8 483.5h0.8" stroke="#0072b2" stroke-width="1" fill="none"/>
<circle cx="837.5" cy="492.5" r="5.0" fill="none" stroke="#0072b2" stroke-width="1.1"/><path d="M837.5 487.2v-0.8M837.5 497.8v0.8M832.2 492.5h-0.8M842.8 492.5h0.8" stroke="#0072b2" stroke-width="1" fill="none"/>
<circle cx="841.5" cy="484.5" r="5.0" fill="none" stroke="#0072b2" stroke-width="1.1"/><path d="M841.5 479.2v-0.8M841.5 489.8v0.8M836.2 484.5h-0.8M846.8 484.5h0.8" stroke="#0072b2" stroke-width="1" fill="none"/>
<circle cx="874.5" cy="491.5" r="5.0" fill="none" stroke="#0072b2" stroke-width="1.1"/><path d="M874.5 486.2v-0.8M874.5 496.8v0.8M869.2 491.5h-0.8M879.8 491.5h0.8" stroke="#0072b2" stroke-width="1" fill="none"/>
<circle cx="878.5" cy="468.5" r="5.0" fill="none" stroke="#0072b2" stroke-width="1.1"/><path d="M878.5 463.2v-0.8M878.5 473.8v0.8M873.2 468.5h-0.8M883.8 468.5h0.8" stroke="#0072b2" stroke-width="1" fill="none"/>
<circle cx="911.5" cy="483.5" r="5.0" fill="none" stroke="#0072b2" stroke-width="1.1"/><path d="M911.5 478.2v-0.8M911.5 488.8v0.8M906.2 483.5h-0.8M916.8 483.5h0.8" stroke="#0072b2" stroke-width="1" fill="none"/>
<circle cx="916.5" cy="490.5" r="5.0" fill="none" stroke="#0072b2" stroke-width="1.1"/><path d="M916.5 485.2v-0.8M916.5 495.8v0.8M911.2 490.5h-0.8M921.8 490.5h0.8" stroke="#0072b2" stroke-width="1" fill="none"/>
<circle cx="949.5" cy="491.5" r="5.0" fill="none" stroke="#0072b2" stroke-width="1.1"/><path d="M949.5 486.2v-0.8M949.5 496.8v0.8M944.2 491.5h-0.8M954.8 491.5h0.8" stroke="#0072b2" stroke-width="1" fill="none"/>
<circle cx="953.5" cy="483.5" r="5.0" fill="none" stroke="#0072b2" stroke-width="1.1"/><path d="M953.5 478.2v-0.8M953.5 488.8v0.8M948.2 483.5h-0.8M958.8 483.5h0.8" stroke="#0072b2" stroke-width="1" fill="none"/>
<circle cx="986.5" cy="484.5" r="5.0" fill="none" stroke="#0072b2" stroke-width="1.1"/><path d="M986.5 479.2v-0.8M986.5 489.8v0.8M981.2 484.5h-0.8M991.8 484.5h0.8" stroke="#0072b2" stroke-width="1" fill="none"/>
<circle cx="946.5" cy="185.5" r="5.0" fill="none" stroke="#0072b2" stroke-width="1.1"/><path d="M946.5 180.2v-0.8M946.5 190.8v0.8M941.2 185.5h-0.8M951.8 185.5h0.8" stroke="#0072b2" stroke-width="1" fill="none"/>
<circle cx="95.5" cy="520.5" r="5.5" fill="#e51e10"/><path d="M95.5 515.2v-0.9M95.5 525.8v0.9M90.2 520.5h-0.9M100.8 520.5h0.9" stroke="#e51e10" stroke-width="1" fill="none"/>
<circle cx="128.5" cy="520.5" r="5.5" fill="#e51e10"/><path d="M128.5 515.2v-0.9M128.5 525.8v0.9M123.2 520.5h-0.9M133.8 520.5h0.9" stroke="#e51e10" stroke-width="1" fill="none"/>
<circle cx="170.5" cy="520.5" r="5.5" fill="#e51e10"/><path d="M170.5 515.2v-0.9M170.5 525.8v0.9M165.2 520.5h-0.9M175.8 520.5h0.9" stroke="#e51e10" stroke-width="1" fill="none"/>
<circle cx="203.5" cy="520.5" r="5.5" fill="#e51e10"/><path d="M203.5 515.2v-0.9M203.5 525.8v0.9M198.2 520.5h-0.9M208.8 520.5h0.9" stroke="#e51e10" stroke-width="1" fill="none"/>
<circle cx="208.5" cy="519.5" r="5.5" fill="#e51e10"/><path d="M208.5 514.2v-0.9M208.5 524.8v0.9M203.2 519.5h-0.9M213.8 519.5h0.9" stroke="#e51e10" stroke-width="1" fill="none"/>
<circle cx="240.5" cy="520.5" r="5.5" fill="#e51e10"/><path d="M240.5 515.2v-0.9M240.5 525.8v0.9M235.2 520.5h-0.9M245.8 520.5h0.9" stroke="#e51e10" stroke-width="1" fill="none"/>
<circle cx="245.5" cy="520.5" r="5.5" fill="#e51e10"/><path d="M245.5 515.2v-0.9M245.5 525.8v0.9M240.2 520.5h-0.9M250.8 520.5h0.9" stroke="#e51e10" stroke-width="1" fill="none"/>
<circle cx="277.5" cy="519.5" r="5.5" fill="#e51e10"/><path d="M277.5 514.2v-0.9M277.5 524.8v0.9M272.2 519.5h-0.9M282.8 519.5h0.9" stroke="#e51e10" stroke-width="1" fill="none"/>
<circle cx="282.5" cy="520.5" r="5.5" fill="#e51e10"/><path d="M282.5 515.2v-0.9M282.5 525.8v0.9M277.2 520.5h-0.9M287.8 520.5h0.9" stroke="#e51e10" stroke-width="1" fill="none"/>
<circle cx="315.5" cy="519.5" r="5.5" fill="#e51e10"/><path d="M315.5 514.2v-0.9M315.5 524.8v0.9M310.2 519.5h-0.9M320.8 519.5h0.9" stroke="#e51e10" stroke-width="1" fill="none"/>
<circle cx="319.5" cy="520.5" r="5.5" fill="#e51e10"/><path d="M319.5 515.2v-0.9M319.5 525.8v0.9M314.2 520.5h-0.9M324.8 520.5h0.9" stroke="#e51e10" stroke-width="1" fill="none"/>
<circle cx="352.5" cy="520.5" r="5.5" fill="#e51e10"/><path d="M352.5 515.2v-0.9M352.5 525.8v0.9M347.2 520.5h-0.9M357.8 520.5h0.9" stroke="#e51e10" stroke-width="1" fill="none"/>
<circle cx="356.5" cy="520.5" r="5.5" fill="#e51e10"/><path d="M356.5 515.2v-0.9M356.5 525.8v0.9M351.2 520.5h-0.9M361.8 520.5h0.9" stroke="#e51e10" stroke-width="1" fill="none"/>
<circle cx="389.5" cy="520.5" r="5.5" fill="#e51e10"/><path d="M389.5 515.2v-0.9M389.5 525.8v0.9M384.2 520.5h-0.9M394.8 520.5h0.9" stroke="#e51e10" stroke-width="1" fill="none"/>
<circle cx="394.5" cy="520.5" r="5.5" fill="#e51e10"/><path d="M394.5 515.2v-0.9M394.5 525.8v0.9M389.2 520.5h-0.9M399.8 520.5h0.9" stroke="#e51e10" stroke-width="1" fill="none"/>
<circle cx="427.5" cy="519.5" r="5.5" fill="#e51e10"/><path d="M427.5 514.2v-0.9M427.5 524.8v0.9M422.2 519.5h-0.9M432.8 519.5h0.9" stroke="#e51e10" stroke-width="1" fill="none"/>
<circle cx="431.5" cy="520.5" r="5.5" fill="#e51e10"/><path d="M431.5 515.2v-0.9M431.5 525.8v0.9M426.2 520.5h-0.9M436.8 520.5h0.9" stroke="#e51e10" stroke-width="1" fill="none"/>
<circle cx="464.5" cy="520.5" r="5.5" fill="#e51e10"/><path d="M464.5 515.2v-0.9M464.5 525.8v0.9M459.2 520.5h-0.9M469.8 520.5h0.9" stroke="#e51e10" stroke-width="1" fill="none"/>
<circle cx="468.5" cy="519.5" r="5.5" fill="#e51e10"/><path d="M468.5 514.2v-0.9M468.5 524.8v0.9M463.2 519.5h-0.9M473.8 519.5h0.9" stroke="#e51e10" stroke-width="1" fill="none"/>
<circle cx="501.5" cy="520.5" r="5.5" fill="#e51e10"/><path d="M501.5 515.2v-0.9M501.5 525.8v0.9M496.2 520.5h-0.9M506.8 520.5h0.9" stroke="#e51e10" stroke-width="1" fill="none"/>
<circle cx="505.5" cy="520.5" r="5.5" fill="#e51e10"/><path d="M505.5 515.2v-0.9M505.5 525.8v0.9M500.2 520.5h-0.9M510.8 520.5h0.9" stroke="#e51e10" stroke-width="1" fill="none"/>
<circle cx="538.5" cy="520.5" r="5.5" fill="#e51e10"/><path d="M538.5 515.2v-0.9M538.5 525.8v0.9M533.2 520.5h-0.9M543.8 520.5h0.9" stroke="#e51e10" stroke-width="1" fill="none"/>
<circle cx="543.5" cy="520.5" r="5.5" fill="#e51e10"/><path d="M543.5 515.2v-0.9M543.5 525.8v0.9M538.2 520.5h-0.9M548.8 520.5h0.9" stroke="#e51e10" stroke-width="1" fill="none"/>
<circle cx="576.5" cy="520.5" r="5.5" fill="#e51e10"/><path d="M576.5 515.2v-0.9M576.5 525.8v0.9M571.2 520.5h-0.9M581.8 520.5h0.9" stroke="#e51e10" stroke-width="1" fill="none"/>
<circle cx="580.5" cy="520.5" r="5.5" fill="#e51e10"/><path d="M580.5 515.2v-0.9M580.5 525.8v0.9M575.2 520.5h-0.9M585.8 520.5h0.9" stroke="#e51e10" stroke-width="1" fill="none"/>
<circle cx="613.5" cy="519.5" r="5.5" fill="#e51e10"/><path d="M613.5 514.2v-0.9M613.5 524.8v0.9M608.2 519.5h-0.9M618.8 519.5h0.9" stroke="#e51e10" stroke-width="1" fill="none"/>
<circle cx="617.5" cy="520.5" r="5.5" fill="#e51e10"/><path d="M617.5 515.2v-0.9M617.5 525.8v0.9M612.2 520.5h-0.9M622.8 520.5h0.9" stroke="#e51e10" stroke-width="1" fill="none"/>
<circle cx="650.5" cy="520.5" r="5.5" fill="#e51e10"/><path d="M650.5 515.2v-0.9M650.5 525.8v0.9M645.2 520.5h-0.9M655.8 520.5h0.9" stroke="#e51e10" stroke-width="1" fill="none"/>
<circle cx="655.5" cy="520.5" r="5.5" fill="#e51e10"/><path d="M655.5 515.2v-0.9M655.5 525.8v0.9M650.2 520.5h-0.9M660.8 520.5h0.9" stroke="#e51e10" stroke-width="1" fill="none"/>
<circle cx="688.5" cy="520.5" r="5.5" fill="#e51e10"/><path d="M688.5 515.2v-0.9M688.5 525.8v0.9M683.2 520.5h-0.9M693.8 520.5h0.9" stroke="#e51e10" stroke-width="1" fill="none"/>
<circle cx="692.5" cy="520.5" r="5.5" fill="#e51e10"/><path d="M692.5 515.2v-0.9M692.5 525.8v0.9M687.2 520.5h-0.9M697.8 520.5h0.9" stroke="#e51e10" stroke-width="1" fill="none"/>
<circle cx="725.5" cy="520.5" r="5.5" fill="#e51e10"/><path d="M725.5 515.2v-0.9M725.5 525.8v0.9M720.2 520.5h-0.9M730.8 520.5h0.9" stroke="#e51e10" stroke-width="1" fill="none"/>
<circle cx="730.5" cy="519.5" r="5.5" fill="#e51e10"/><path d="M730.5 514.2v-0.9M730.5 524.8v0.9M725.2 519.5h-0.9M735.8 519.5h0.9" stroke="#e51e10" stroke-width="1" fill="none"/>
<circle cx="762.5" cy="519.5" r="5.5" fill="#e51e10"/><path d="M762.5 514.2v-0.9M762.5 524.8v0.9M757.2 519.5h-0.9M767.8 519.5h0.9" stroke="#e51e10" stroke-width="1" fill="none"/>
<circle cx="766.5" cy="520.5" r="5.5" fill="#e51e10"/><path d="M766.5 515.2v-0.9M766.5 525.8v0.9M761.2 520.5h-0.9M771.8 520.5h0.9" stroke="#e51e10" stroke-width="1" fill="none"/>
<circle cx="799.5" cy="520.5" r="5.5" fill="#e51e10"/><path d="M799.5 515.2v-0.9M799.5 525.8v0.9M794.2 520.5h-0.9M804.8 520.5h0.9" stroke="#e51e10" stroke-width="1" fill="none"/>
<circle cx="804.5" cy="520.5" r="5.5" fill="#e51e10"/><path d="M804.5 515.2v-0.9M804.5 525.8v0.9M799.2 520.5h-0.9M809.8 520.5h0.9" stroke="#e51e10" stroke-width="1" fill="none"/>
<circle cx="837.5" cy="520.5" r="5.5" fill="#e51e10"/><path d="M837.5 515.2v-0.9M837.5 525.8v0.9M832.2 520.5h-0.9M842.8 520.5h0.9" stroke="#e51e10" stroke-width="1" fill="none"/>
<circle cx="841.5" cy="520.5" r="5.5" fill="#e51e10"/><path d="M841.5 515.2v-0.9M841.5 525.8v0.9M836.2 520.5h-0.9M846.8 520.5h0.9" stroke="#e51e10" stroke-width="1" fill="none"/>
<circle cx="874.5" cy="520.5" r="5.5" fill="#e51e10"/><path d="M874.5 515.2v-0.9M874.5 525.8v0.9M869.2 520.5h-0.9M879.8 520.5h0.9" stroke="#e51e10" stroke-width="1" fill="none"/>
<circle cx="878.5" cy="520.5" r="5.5" fill="#e51e10"/><path d="M878.5 515.2v-0.9M878.5 525.8v0.9M873.2 520.5h-0.9M883.8 520.5h0.9" stroke="#e51e10" stroke-width="1" fill="none"/>
<circle cx="911.5" cy="520.5" r="5.5" fill="#e51e10"/><path d="M911.5 515.2v-0.9M911.5 525.8v0.9M906.2 520.5h-0.9M916.8 520.5h0.9" stroke="#e51e10" stroke-width="1" fill="none"/>
<circle cx="916.5" cy="520.5" r="5.5" fill="#e51e10"/><path d="M916.5 515.2v-0.9M916.5 525.8v0.9M911.2 520.5h-0.9M921.8 520.5h0.9" stroke="#e51e10" stroke-width="1" fill="none"/>
<circle cx="949.5" cy="520.5" r="5.5" fill="#e51e10"/><path d="M949.5 515.2v-0.9M949.5 525.8v0.9M944.2 520.5h-0.9M954.8 520.5h0.9" stroke="#e51e10" stroke-width="1" fill="none"/>
<circle cx="953.5" cy="520.5" r="5.5" fill="#e51e10"/><path d="M953.5 515.2v-0.9M953.5 525.8v0.9M948.2 520.5h-0.9M958.8 520.5h0.9" stroke="#e51e10" stroke-width="1" fill="none"/>
<circle cx="986.5" cy="520.5" r="5.5" fill="#e51e10"/><path d="M986.5 515.2v-0.9M986.5 525.8v0.9M981.2 520.5h-0.9M991.8 520.5h0.9" stroke="#e51e10" stroke-width="1" fill="none"/>
<circle cx="946.5" cy="204.5" r="5.5" fill="#e51e10"/><path d="M946.5 199.2v-0.9M946.5 209.8v0.9M941.2 204.5h-0.9M951.8 204.5h0.9" stroke="#e51e10" stroke-width="1" fill="none"/>
<path d="M169.5 444.5L161.5 456.5L177.5 456.5Z" fill="none" stroke="#000" stroke-width="1"/>
<path d="M946.5 215.5L938.5 227.5L954.5 227.5Z" fill="none" stroke="#000" stroke-width="1"/>
<path d="M163.0 413.5H176.0M169.5 407.0V420.0" stroke="#9400d3" stroke-width="1" fill="none" shape-rendering="crispEdges"/>
<path d="M820.0 413.5H833.0M826.5 407.0V420.0" stroke="#9400d3" stroke-width="1" fill="none" shape-rendering="crispEdges"/>
<path d="M940.0 242.5H953.0M946.5 236.0V249.0" stroke="#9400d3" stroke-width="1" fill="none" shape-rendering="crispEdges"/>
<rect x="94.5" y="74.5" width="895.0" height="448.0" fill="none" stroke="#000" stroke-width="1" shape-rendering="crispEdges"/>
</svg></body></html>
